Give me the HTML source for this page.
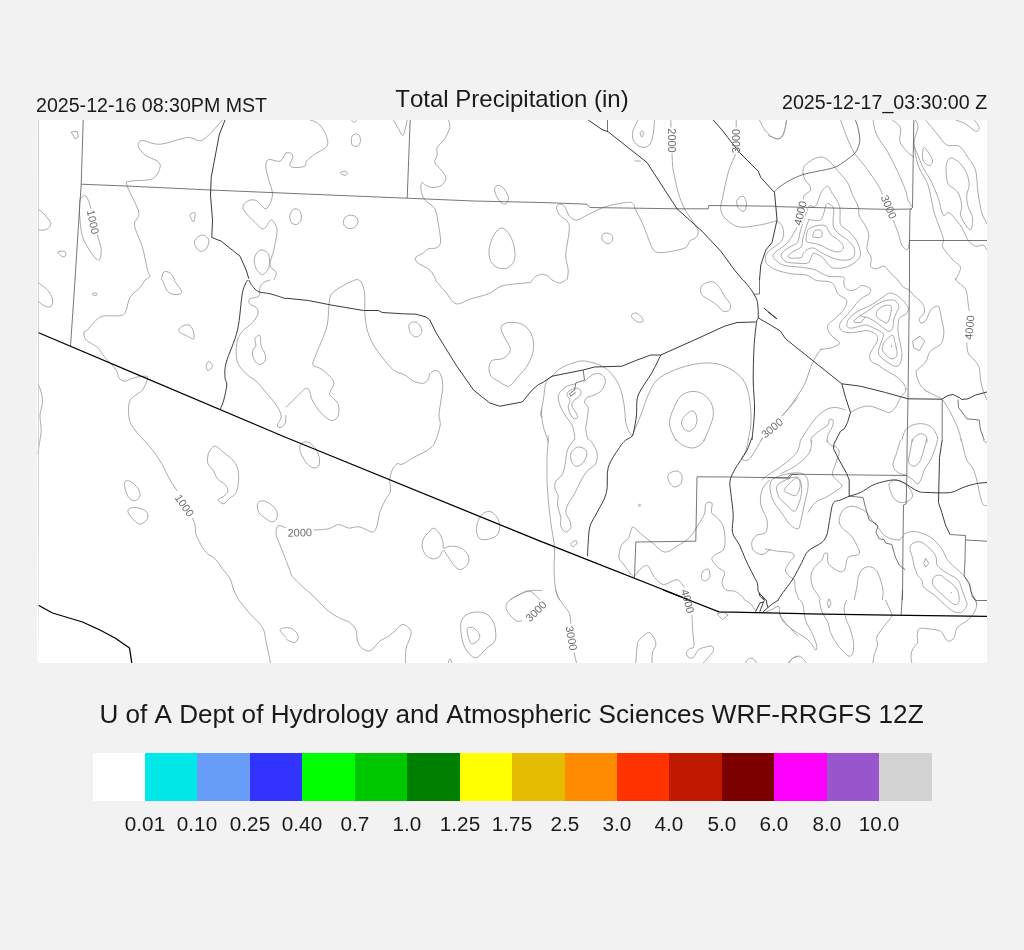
<!DOCTYPE html>
<html lang="en">
<head>
<meta charset="utf-8">
<title>Total Precipitation (in)</title>
<style>
html,body{margin:0;padding:0}
body{width:1024px;height:950px;background:#f2f2f2;position:relative;overflow:hidden;font-family:"Liberation Sans",Arial,sans-serif;color:#1a1a1a;font-kerning:none}
.t{position:absolute;white-space:pre;line-height:1}
#tl{left:35.9px;top:95.6px;font-size:19.62px}
#tc{left:0;width:1024px;text-align:center;top:86.5px;font-size:24.0px}
#tr{right:36.5px;top:92.6px;font-size:19.64px}
#cap{left:0;width:1023px;text-align:center;top:700.5px;font-size:26.12px}
#map{position:absolute;left:37px;top:120px;display:block}
#bar{position:absolute;left:92.5px;top:753px;width:839.25px;height:48.25px;display:flex}
#bar i{flex:1 1 0;display:block}
#map,.t,#labs span{will-change:transform}
#labs span{position:absolute;top:813.5px;font-size:20.7px;line-height:1;transform:translateX(-50%);white-space:pre}
</style>
</head>
<body>
<div class="t" id="tl">2025-12-16 08:30PM MST</div>
<div class="t" id="tc">Total Precipitation (in)</div>
<div class="t" id="tr">2025-12-17_03:30:00 Z</div>
<svg id="map" width="950" height="543" viewBox="37 120 950 543">
<defs><linearGradient id="lg" gradientUnits="userSpaceOnUse" x1="0" y1="120" x2="0" y2="663"><stop offset="0" stop-color="#b4b4b4"/><stop offset="0.75" stop-color="#c8c8c8"/><stop offset="1" stop-color="#f4f4f4"/></linearGradient><clipPath id="cp"><rect x="37.2" y="120" width="949.8" height="543"/></clipPath></defs>
<rect x="37.2" y="120" width="949.8" height="543" fill="#fff"/>
<g clip-path="url(#cp)">
<g fill="none" stroke="#8e8e8e" stroke-width="0.75" stroke-linejoin="round">
<path d="M71.2 132.0L77.0 131.2L78.5 137.0L75.0 138.8Z"/>
<path d="M222.5 120.0C219.2 123.3 208.3 137.1 202.5 140.0C196.7 142.9 194.6 136.8 187.5 137.5C180.4 138.2 167.5 143.8 160.0 144.2C152.5 144.8 146.1 140.2 142.5 140.5C138.9 140.8 137.8 143.8 138.2 146.2C138.7 148.7 141.8 152.5 145.0 155.0C148.2 157.5 155.0 159.2 157.5 161.2C160.0 163.3 160.8 164.6 160.0 167.5C159.2 170.4 157.5 176.5 152.5 178.8C147.5 181.0 134.2 180.1 130.0 181.2C125.8 182.4 125.5 180.3 127.0 185.5C128.5 190.7 137.5 205.9 138.8 212.5C140.0 219.1 133.9 219.2 134.5 225.0C135.1 230.8 140.3 240.0 142.5 247.5C144.7 255.0 146.2 265.2 147.5 270.0C148.8 274.8 150.4 274.6 150.0 276.2C149.6 277.9 145.8 279.4 145.0 280.0"/>
<path d="M81.2 197.5C82.1 197.3 84.6 194.4 86.2 196.2C87.9 198.1 90.4 206.7 91.2 208.8"/>
<path d="M97.0 233.8C97.7 236.5 101.2 245.6 101.2 250.0C101.3 254.4 100.4 261.7 97.5 260.0C94.6 258.3 86.7 246.7 83.8 240.0C80.8 233.3 80.7 226.2 80.0 220.0C79.3 213.8 79.3 206.2 79.5 202.5C79.7 198.8 81.0 198.3 81.2 197.5"/>
<path d="M38.0 208.8C39.2 209.8 42.9 212.5 45.0 215.0C47.1 217.5 50.5 221.3 50.8 223.8C51.0 226.2 48.4 228.5 46.2 229.5C44.1 230.5 39.4 229.9 38.0 230.0"/>
<path d="M58.0 252.0C58.5 251.2 63.8 250.8 65.0 251.5C66.2 252.2 66.0 255.2 65.5 256.0C65.0 256.8 63.2 257.2 62.0 256.5C60.8 255.8 57.5 252.8 58.0 252.0Z"/>
<path d="M190.0 215.0C190.2 213.5 194.4 211.8 195.0 213.0C195.6 214.2 194.3 221.7 193.5 222.0C192.7 222.3 189.8 216.5 190.0 215.0Z"/>
<path d="M195.0 240.0C196.2 238.1 200.2 235.0 202.5 235.0C204.8 235.0 208.1 237.7 208.8 240.0C209.4 242.3 207.7 246.9 206.2 248.8C204.8 250.6 201.8 251.7 200.0 251.2C198.2 250.8 196.3 248.1 195.5 246.2C194.7 244.4 193.8 241.9 195.0 240.0Z"/>
<path d="M286.0 152.5C285.0 154.0 282.9 160.1 280.0 161.2C277.1 162.4 271.1 158.7 268.8 159.5C266.4 160.3 265.8 162.8 265.8 166.2C265.8 169.7 267.6 175.2 268.8 180.0C269.9 184.8 272.9 190.2 272.5 195.0C272.1 199.8 269.0 207.8 266.2 208.8C263.5 209.7 259.4 201.8 256.2 200.5C253.1 199.2 249.7 199.9 247.5 201.2C245.3 202.6 242.0 205.2 243.2 208.8C244.5 212.3 251.6 219.2 255.0 222.5C258.4 225.8 261.0 229.2 263.8 228.8C266.5 228.3 269.0 219.8 271.2 220.0C273.5 220.2 276.6 225.0 277.0 230.0C277.4 235.0 274.9 244.2 273.8 250.0C272.6 255.8 269.6 261.2 270.0 265.0C270.4 268.8 275.6 270.0 276.2 272.5C276.9 275.0 274.2 278.8 273.8 280.0"/>
<path d="M262.5 250.0C264.5 250.4 267.7 252.1 268.8 255.0C269.8 257.9 269.8 264.2 268.8 267.5C267.7 270.8 264.6 274.3 262.5 274.5C260.4 274.7 257.6 271.2 256.2 268.8C254.9 266.3 254.1 262.7 254.2 260.0C254.4 257.3 255.6 254.2 257.0 252.5C258.4 250.8 260.5 249.6 262.5 250.0Z"/>
<path d="M161.2 280.0C161.7 278.7 162.3 273.2 163.8 272.0C165.2 270.8 168.1 271.7 170.0 273.0C171.9 274.3 174.2 278.8 175.0 280.0"/>
<path d="M309.8 120.0C311.2 120.6 315.8 121.2 318.5 123.8C321.2 126.2 324.6 131.2 326.0 135.0C327.4 138.8 328.8 142.9 326.8 146.2C324.7 149.6 316.9 152.5 313.5 155.0C310.1 157.5 308.0 159.4 306.5 161.2C305.0 163.1 306.9 165.2 304.8 166.2C302.6 167.3 296.0 167.8 293.5 167.5C291.0 167.2 289.9 166.2 289.8 164.5C289.6 162.8 292.5 159.4 292.8 157.5C293.0 155.6 292.1 154.0 291.0 153.2C289.9 152.5 286.8 153.0 286.0 153.0"/>
<path d="M353.0 135.0C354.2 134.2 357.2 133.5 358.5 134.5C359.8 135.5 360.7 139.3 360.5 141.2C360.3 143.2 358.6 145.6 357.2 146.2C355.9 146.9 353.2 146.1 352.2 145.0C351.3 143.9 351.4 141.2 351.5 139.5C351.6 137.8 351.8 135.8 353.0 135.0Z"/>
<path d="M351.5 120.0C351.9 120.4 353.2 122.5 354.0 122.5C354.8 122.5 356.1 120.4 356.5 120.0"/>
<path d="M340.2 172.5C340.4 171.8 344.3 171.0 345.5 171.2C346.7 171.5 347.4 173.0 347.2 173.8C347.1 174.5 345.9 175.7 344.8 175.5C343.6 175.3 340.1 173.2 340.2 172.5Z"/>
<path d="M393.5 120.0C394.3 121.5 397.0 126.2 398.5 128.8C400.0 131.3 401.6 135.7 402.8 135.5C403.9 135.3 404.8 130.1 405.5 127.5C406.2 124.9 407.0 121.2 407.2 120.0"/>
<path d="M448.5 120.0C448.7 121.2 450.4 124.4 449.8 127.5C449.1 130.6 446.8 135.4 444.8 138.8C442.7 142.1 438.5 144.8 437.2 147.5C436.0 150.2 437.7 152.5 437.2 155.0C436.8 157.5 433.9 159.8 434.8 162.5C435.6 165.2 440.4 168.5 442.2 171.2C444.1 174.0 446.2 176.4 446.0 178.8C445.8 181.1 443.3 184.0 441.0 185.5C438.7 187.0 434.8 187.5 432.2 187.5C429.8 187.5 427.8 186.3 426.0 185.5C424.2 184.7 422.6 181.8 421.8 182.5C420.9 183.2 420.5 187.1 421.0 190.0C421.5 192.9 422.5 196.9 424.8 200.0C427.0 203.1 432.5 204.6 434.8 208.8C437.0 212.9 437.5 219.4 438.5 225.0C439.5 230.6 440.9 238.7 440.5 242.5C440.1 246.3 438.0 247.0 436.0 248.0C434.0 249.0 430.8 247.8 428.5 248.8C426.2 249.7 424.3 252.4 422.2 253.8C420.2 255.1 416.8 255.5 416.0 257.0C415.2 258.5 415.0 260.3 417.2 262.5C419.5 264.7 426.6 267.1 429.8 270.0C432.9 272.9 435.0 278.3 436.0 280.0"/>
<path d="M494.8 187.5C495.4 185.9 498.1 185.1 499.8 185.5C501.4 185.9 503.3 188.0 504.8 190.0C506.2 192.0 508.3 195.2 508.5 197.5C508.7 199.8 507.2 202.9 506.0 203.8C504.8 204.6 502.7 204.0 501.0 202.5C499.3 201.0 497.0 197.5 496.0 195.0C495.0 192.5 494.1 189.1 494.8 187.5Z"/>
<path d="M498.5 229.2C500.7 227.5 502.7 227.9 504.8 229.2C506.8 230.6 509.3 234.0 511.0 237.5C512.7 241.0 514.2 246.0 514.8 250.0C515.2 254.0 515.2 258.2 514.0 261.2C512.8 264.2 509.8 266.9 507.2 268.0C504.7 269.1 501.1 268.9 498.5 268.0C495.9 267.1 493.1 265.1 491.5 262.5C489.9 259.9 489.0 256.2 489.0 252.5C489.0 248.8 489.9 243.9 491.5 240.0C493.1 236.1 496.3 231.0 498.5 229.2Z"/>
<path d="M291.5 211.2C292.5 209.9 294.5 208.6 296.0 208.8C297.5 208.9 299.7 210.1 300.5 212.0C301.3 213.9 301.7 217.9 301.0 220.0C300.3 222.1 298.1 224.1 296.5 224.5C294.9 224.9 292.6 223.8 291.5 222.5C290.4 221.2 289.8 218.9 289.8 217.0C289.8 215.1 290.5 212.6 291.5 211.2Z"/>
<path d="M344.8 218.0C345.8 216.6 347.9 215.4 349.8 215.2C351.6 215.1 354.6 215.8 356.0 217.0C357.4 218.2 358.4 220.7 358.0 222.5C357.6 224.3 355.3 227.1 353.5 228.0C351.7 228.9 348.9 228.7 347.2 228.0C345.6 227.3 343.9 225.4 343.5 223.8C343.1 222.1 343.7 219.4 344.8 218.0Z"/>
<path d="M532.2 280.0C532.9 279.4 534.4 277.2 536.0 276.2C537.6 275.3 541.0 274.6 542.0 274.2"/>
<path d="M634.5 160.8 L640.8 161.2"/>
<path d="M638.2 120.0C637.4 121.7 634.1 126.7 633.2 130.0C632.4 133.3 632.0 137.2 633.2 140.0C634.5 142.8 638.0 146.2 640.8 147.0C643.5 147.8 647.4 147.2 649.5 145.0C651.6 142.8 652.4 137.9 653.2 133.8C654.1 129.6 654.3 122.3 654.5 120.0"/>
<path d="M640.2 132.5C640.5 131.5 642.2 130.8 642.8 131.2C643.2 131.7 643.5 134.0 643.2 135.0C643.0 136.0 642.0 137.4 641.5 137.0C641.0 136.6 640.0 133.5 640.2 132.5Z"/>
<path d="M670.8 120.0 L671.0 127.5"/>
<path d="M672.0 153.8C672.2 156.5 672.2 163.5 673.2 170.0C674.3 176.5 676.4 186.0 678.2 192.5C680.1 199.0 682.2 204.2 684.5 208.8C686.8 213.3 689.7 216.2 692.0 220.0C694.3 223.8 697.6 228.3 698.2 231.2C698.9 234.2 697.2 235.8 695.8 237.5C694.3 239.2 691.2 239.6 689.5 241.2C687.8 242.9 688.7 245.8 685.8 247.5C682.8 249.2 676.6 250.4 672.0 251.2C667.4 252.1 661.6 253.1 658.2 252.5C654.9 251.9 654.5 252.1 652.0 247.5C649.5 242.9 646.0 231.2 643.2 225.0C640.5 218.8 637.4 213.5 635.8 210.0C634.1 206.5 634.7 205.0 633.2 203.8C631.8 202.5 631.4 202.1 627.0 202.5C622.6 202.9 613.2 204.4 607.0 206.2C600.8 208.1 594.5 211.5 589.5 213.8C584.5 216.0 580.3 219.6 577.0 220.0C573.7 220.4 571.6 218.5 569.5 216.2C567.4 214.0 566.2 208.2 564.5 206.2C562.8 204.2 560.8 204.0 559.5 204.2C558.2 204.5 556.5 205.7 556.5 207.5C556.5 209.3 557.5 212.5 559.5 215.0C561.5 217.5 566.7 219.6 568.2 222.5C569.8 225.4 569.4 227.1 569.0 232.5C568.6 237.9 565.9 248.8 565.8 255.0C565.6 261.2 568.0 265.8 568.2 270.0C568.5 274.2 567.2 278.3 567.0 280.0"/>
<path d="M736.2 120.0 L736.2 127.5"/>
<path d="M735.8 153.8C734.5 156.9 730.3 165.6 728.2 172.5C726.2 179.4 724.5 188.8 723.2 195.0C722.0 201.2 720.1 205.8 720.8 210.0C721.4 214.2 723.9 217.2 727.0 220.0C730.1 222.8 734.1 226.2 739.5 227.0C744.9 227.8 753.5 226.0 759.5 225.0C765.5 224.0 773.0 221.9 775.8 221.2"/>
<path d="M737.0 200.0C737.8 198.1 741.7 195.6 743.2 196.2C744.8 196.9 746.4 201.2 746.5 203.8C746.6 206.2 745.4 210.6 744.0 211.2C742.6 211.9 739.4 209.4 738.2 207.5C737.1 205.6 736.2 201.9 737.0 200.0Z"/>
<path d="M759.5 120.0C760.5 121.9 763.0 128.1 765.8 131.2C768.5 134.4 772.8 138.1 775.8 138.8C778.7 139.4 781.5 138.1 783.2 135.0C785.0 131.9 786.0 122.5 786.5 120.0"/>
<path d="M602.0 235.5C602.5 234.1 604.8 233.0 606.5 233.0C608.2 233.0 611.0 234.2 612.0 235.5C613.0 236.8 613.1 239.1 612.5 240.5C611.9 241.9 609.8 243.6 608.2 243.8C606.7 243.9 604.3 242.6 603.2 241.2C602.2 239.9 601.5 236.9 602.0 235.5Z"/>
<path d="M542.0 273.8C543.0 274.2 546.6 275.2 548.2 276.2C549.9 277.3 551.4 279.4 552.0 280.0"/>
<path d="M786.8 120.0C786.3 121.9 785.5 128.1 784.2 131.2C783.0 134.4 782.0 138.0 779.2 138.8C776.5 139.5 769.9 136.0 768.0 135.5"/>
<path d="M840.5 120.0C841.8 123.3 845.7 134.5 848.0 140.0C850.3 145.5 853.2 150.8 854.2 153.0"/>
<path d="M803.0 173.8C803.2 172.5 802.4 168.8 804.2 166.2C806.1 163.8 810.9 160.2 814.2 158.8C817.6 157.3 820.9 156.2 824.2 157.5C827.6 158.8 832.1 164.2 834.2 166.2C836.4 168.3 836.5 169.4 837.0 170.0"/>
<path d="M854.2 153.0C856.3 155.6 862.8 163.4 866.8 168.8C870.7 174.1 875.4 180.7 878.0 185.0C880.6 189.3 881.8 192.9 882.5 194.5"/>
<path d="M893.0 220.0C893.8 222.1 896.5 228.3 898.0 232.5C899.5 236.7 900.2 242.2 901.8 245.0C903.3 247.8 906.2 250.3 907.5 249.5C908.8 248.7 909.2 241.6 909.5 240.0"/>
<path d="M873.0 120.0C873.6 122.5 874.2 129.6 876.8 135.0C879.2 140.4 884.5 146.2 888.0 152.5C891.5 158.8 895.1 166.2 898.0 172.5C900.9 178.8 903.8 185.4 905.5 190.0C907.2 194.6 906.8 197.1 908.0 200.0C909.2 202.9 911.8 206.2 912.5 207.5"/>
<path d="M892.2 120.0C893.6 121.2 899.2 124.0 900.5 127.5C901.8 131.0 898.9 137.5 899.8 141.2C900.6 145.0 903.2 147.3 905.5 150.0C907.8 152.7 912.4 156.2 913.8 157.5"/>
<path d="M915.5 120.0C915.9 121.2 918.2 123.8 918.0 127.5C917.8 131.2 914.2 136.2 914.2 142.5C914.2 148.8 915.7 157.9 918.0 165.0C920.3 172.1 925.3 177.1 928.0 185.0C930.7 192.9 931.8 203.8 934.2 212.5C936.8 221.2 941.5 231.7 943.0 237.5C944.5 243.3 941.3 243.8 943.0 247.5C944.7 251.2 950.1 256.7 953.0 260.0C955.9 263.3 960.1 264.2 960.5 267.5C960.9 270.8 956.3 277.9 955.5 280.0"/>
<path d="M925.5 120.0C927.6 122.5 934.5 130.8 938.0 135.0C941.5 139.2 943.2 143.1 946.8 145.0C950.3 146.9 955.7 144.2 959.2 146.2C962.8 148.3 965.3 153.5 968.0 157.5C970.7 161.5 973.8 164.2 975.5 170.0C977.2 175.8 977.0 185.4 978.0 192.5C979.0 199.6 980.2 207.3 981.8 212.5C983.2 217.7 986.1 221.9 987.0 223.8"/>
<path d="M955.5 120.0C957.2 120.6 962.2 121.9 965.5 123.8C968.8 125.6 973.2 130.6 975.5 131.2C977.8 131.9 979.5 129.4 979.2 127.5C979.0 125.6 975.1 121.2 974.2 120.0"/>
<path d="M924.2 147.5C925.4 147.5 927.9 151.5 929.2 153.8C930.6 156.0 932.5 159.3 932.5 161.2C932.5 163.2 930.8 165.5 929.2 165.5C927.8 165.5 924.6 163.2 923.5 161.2C922.4 159.3 922.4 156.0 922.5 153.8C922.6 151.5 923.1 147.5 924.2 147.5Z"/>
<path d="M951.8 158.0C953.9 158.4 958.0 161.1 960.5 163.8C963.0 166.4 965.3 170.2 966.8 173.8C968.2 177.3 969.2 181.5 969.2 185.0C969.2 188.5 967.0 191.5 966.8 195.0C966.5 198.5 967.0 202.5 968.0 206.2C969.0 210.0 972.0 213.6 972.5 217.5C973.0 221.4 972.2 228.2 971.0 229.5C969.8 230.8 967.2 227.4 965.5 225.0C963.8 222.6 961.1 218.1 960.5 215.0C959.9 211.9 962.0 209.6 961.8 206.2C961.5 202.9 960.5 197.9 959.2 195.0C958.0 192.1 956.1 190.6 954.2 188.8C952.4 186.9 949.4 186.9 948.0 183.8C946.6 180.6 946.1 173.8 946.0 170.0C945.9 166.2 946.5 163.2 947.5 161.2C948.5 159.2 949.6 157.6 951.8 158.0Z"/>
<path d="M913.8 145.0C915.3 148.8 920.2 161.7 923.0 167.5C925.8 173.3 928.0 175.0 930.5 180.0C933.0 185.0 935.9 191.7 938.0 197.5C940.1 203.3 941.3 212.5 943.0 215.0C944.7 217.5 946.3 212.3 948.0 212.5C949.7 212.7 950.7 213.8 953.0 216.2C955.3 218.8 959.2 223.5 961.8 227.5C964.2 231.5 965.7 236.9 968.0 240.0C970.3 243.1 973.0 245.4 975.5 246.2C978.0 247.1 981.1 244.4 983.0 245.0C984.9 245.6 986.3 249.2 987.0 250.0"/>
<path d="M815.0 230.6C816.4 229.6 820.2 229.6 821.2 230.6C822.3 231.7 822.6 235.8 821.2 236.9C819.9 237.9 814.2 237.9 813.1 236.9C812.1 235.8 813.6 231.7 815.0 230.6Z"/>
<path d="M810.0 228.1C811.6 227.3 814.4 226.0 816.9 225.6C819.4 225.2 823.1 224.9 825.0 225.6C826.9 226.4 827.1 228.4 828.1 230.0C829.2 231.6 829.7 233.4 831.2 235.0C832.8 236.6 835.6 237.8 837.5 239.4C839.4 240.9 841.6 242.8 842.5 244.4C843.4 245.9 843.8 247.5 843.1 248.8C842.5 250.0 840.9 251.7 838.8 251.9C836.6 252.1 833.1 251.1 830.0 250.0C826.9 248.9 822.9 246.1 820.0 245.0C817.1 243.9 814.7 243.6 812.5 243.1C810.3 242.6 807.9 243.0 806.9 241.9C805.8 240.7 806.1 238.1 806.2 236.2C806.4 234.4 806.9 232.0 807.5 230.6C808.1 229.3 808.4 229.0 810.0 228.1Z"/>
<path d="M809.4 219.4C810.4 219.5 813.0 220.6 815.0 220.6C817.0 220.6 819.7 220.9 821.2 219.4C822.8 217.8 823.6 213.4 824.4 211.2C825.1 209.1 825.1 207.5 825.6 206.2C826.1 205.0 826.4 203.5 827.5 203.5C828.6 203.5 831.5 205.0 832.5 206.2C833.5 207.5 833.6 209.0 833.8 211.2C833.9 213.5 833.1 217.3 833.1 220.0C833.1 222.7 832.8 225.2 833.8 227.5C834.7 229.8 836.5 231.7 838.8 233.8C841.0 235.8 845.0 237.7 847.5 240.0C850.0 242.3 852.6 245.0 853.8 247.5C854.9 250.0 855.0 253.0 854.4 255.0C853.8 257.0 852.4 258.5 850.0 259.4C847.6 260.2 843.3 260.4 840.0 260.0C836.7 259.6 833.1 258.1 830.0 256.9C826.9 255.6 824.0 254.0 821.2 252.5C818.5 251.0 816.0 248.6 813.8 248.1C811.5 247.6 809.3 248.4 807.5 249.4C805.7 250.3 804.2 252.4 803.1 253.8C802.1 255.1 803.2 256.8 801.2 257.5C799.3 258.2 793.4 258.3 791.2 258.1C789.1 257.9 787.9 257.3 788.1 256.2C788.3 255.2 790.3 253.4 792.5 251.9C794.7 250.3 799.6 248.9 801.2 246.9C802.9 244.9 801.8 243.0 802.5 240.0C803.2 237.0 804.6 232.1 805.6 228.8C806.7 225.4 808.1 221.6 808.8 220.0C809.4 218.4 808.3 219.3 809.4 219.4Z"/>
<path d="M807.5 208.8C808.0 207.8 808.9 205.9 810.0 205.6C811.1 205.3 813.1 207.4 814.4 206.9C815.6 206.4 816.4 204.9 817.5 202.5C818.6 200.1 819.6 195.2 821.2 192.5C822.9 189.8 825.6 186.0 827.5 186.2C829.4 186.5 830.8 191.2 832.5 193.8C834.2 196.2 836.2 198.8 837.5 201.2C838.8 203.8 839.6 205.6 840.0 208.8C840.4 211.9 839.8 217.2 840.0 220.0C840.2 222.8 839.6 223.5 841.2 225.6C842.9 227.7 847.4 229.9 850.0 232.5C852.6 235.1 855.2 238.3 856.9 241.2C858.5 244.2 859.5 247.4 860.0 250.0C860.5 252.6 861.0 254.7 860.0 256.9C859.0 259.1 856.2 261.4 853.8 263.1C851.2 264.9 848.3 266.7 845.0 267.5C841.7 268.3 836.5 268.5 833.8 268.1C831.0 267.7 830.6 266.8 828.8 265.0C826.9 263.2 825.0 259.5 822.5 257.5C820.0 255.5 815.6 253.1 813.8 253.1C811.9 253.1 812.3 255.8 811.2 257.5C810.2 259.2 810.0 262.2 807.5 263.1C805.0 264.1 799.8 263.3 796.2 263.1C792.7 262.9 788.8 263.0 786.2 261.9C783.8 260.7 781.7 258.0 781.2 256.2C780.8 254.5 782.1 252.9 783.8 251.2C785.4 249.6 789.0 247.7 791.2 246.2C793.5 244.8 796.0 244.8 797.5 242.5C799.0 240.2 799.0 236.2 800.0 232.5C801.0 228.8 802.6 223.5 803.8 220.0C804.9 216.5 806.2 213.1 806.9 211.2C807.5 209.4 807.0 209.7 807.5 208.8Z"/>
<path d="M803.1 173.1C803.4 174.3 804.0 178.0 805.0 180.0C806.0 182.0 808.4 183.3 809.4 185.0C810.3 186.7 810.8 188.8 810.6 190.0C810.4 191.2 809.2 191.7 808.1 192.5C807.1 193.3 805.2 193.9 804.4 195.0C803.5 196.1 803.3 198.6 803.1 199.4"/>
<path d="M796.9 227.5C795.9 229.2 793.2 234.6 791.2 237.5C789.3 240.4 787.7 242.5 785.0 245.0C782.3 247.5 777.0 250.6 775.0 252.5C773.0 254.4 772.8 254.8 773.1 256.2C773.4 257.7 774.9 259.7 776.9 261.2C778.9 262.8 780.9 264.6 785.0 265.6C789.1 266.6 796.5 266.6 801.2 267.2C806.0 267.9 810.2 268.3 813.8 269.4C817.3 270.5 819.8 272.6 822.5 273.8C825.2 274.9 826.7 276.0 830.0 276.5C833.3 277.0 840.0 276.3 842.5 276.9C845.0 277.5 844.6 279.5 845.0 280.0"/>
<path d="M775.6 220.6C776.4 221.0 778.8 221.8 780.0 223.1C781.2 224.5 782.6 226.4 783.1 228.8C783.6 231.1 783.9 235.0 783.1 237.5C782.4 240.0 780.9 241.7 778.8 243.8C776.6 245.8 772.2 247.9 770.0 250.0C767.8 252.1 766.1 254.0 765.6 256.2C765.1 258.5 765.1 261.5 766.9 263.8C768.6 266.0 772.2 268.3 776.2 270.0C780.3 271.7 786.2 272.9 791.2 273.8C796.2 274.6 802.3 274.0 806.2 275.0C810.2 276.0 813.5 279.2 815.0 280.0"/>
<path d="M836.9 170.0C838.6 172.1 844.9 178.3 847.5 182.5C850.1 186.7 850.7 191.0 852.5 195.0C854.3 199.0 857.0 202.7 858.1 206.2C859.3 209.8 858.2 213.1 859.4 216.2C860.5 219.4 863.4 221.9 865.0 225.0C866.6 228.1 868.4 231.0 868.8 235.0C869.1 239.0 866.5 245.0 866.9 248.8C867.3 252.5 870.6 254.6 871.2 257.5C871.9 260.4 869.8 264.4 870.6 266.2C871.5 268.1 874.1 268.8 876.2 268.8C878.4 268.8 881.8 266.0 883.8 266.2C885.7 266.5 886.5 268.5 888.0 270.0C889.5 271.5 890.8 273.3 892.5 275.0C894.2 276.7 897.1 279.2 898.0 280.0"/>
<path d="M38.0 282.5C39.6 283.8 45.1 287.3 47.5 290.0C49.9 292.7 51.9 296.0 52.5 298.8C53.1 301.5 52.5 305.0 51.2 306.2C50.0 307.5 47.2 307.1 45.0 306.2C42.8 305.4 39.2 302.1 38.0 301.2"/>
<path d="M92.5 293.5C92.9 293.1 95.5 292.8 96.2 293.0C97.0 293.2 97.2 294.6 96.8 295.0C96.3 295.4 94.5 295.8 93.8 295.5C93.0 295.2 92.1 293.9 92.5 293.5Z"/>
<path d="M145.0 280.0C144.2 281.2 142.5 284.6 140.0 287.5C137.5 290.4 132.3 293.8 130.0 297.5C127.7 301.2 127.7 307.0 126.2 310.0C124.8 313.0 125.2 314.5 121.2 315.5C117.3 316.5 107.1 315.1 102.5 316.2C97.9 317.4 96.2 320.2 93.8 322.5C91.2 324.8 89.2 328.3 87.5 330.0C85.8 331.7 84.0 330.8 83.8 332.5C83.5 334.2 84.0 337.5 86.2 340.0C88.5 342.5 94.4 344.6 97.5 347.5C100.6 350.4 101.9 353.8 105.0 357.5C108.1 361.2 114.0 366.7 116.2 370.0C118.5 373.3 117.4 375.6 118.8 377.5C120.1 379.4 121.8 381.2 124.5 381.2C127.2 381.2 131.4 378.3 135.0 377.5C138.6 376.7 144.2 376.0 146.2 376.2C148.3 376.5 148.1 376.5 147.5 378.8C146.9 381.0 145.0 386.9 142.5 390.0C140.0 393.1 134.8 395.0 132.5 397.5C130.2 400.0 129.2 401.2 128.8 405.0C128.2 408.8 128.5 415.8 129.5 420.0C130.5 424.2 132.6 426.7 135.0 430.0C137.4 433.3 142.3 438.3 143.8 440.0"/>
<path d="M162.5 280.0C163.3 281.9 165.4 288.8 167.5 291.2C169.6 293.7 172.6 294.3 175.0 294.5C177.4 294.7 181.3 294.1 181.8 292.5C182.2 290.9 178.8 287.1 177.5 285.0C176.2 282.9 174.4 280.8 173.8 280.0"/>
<path d="M178.8 331.2C177.9 329.6 180.8 327.3 182.5 326.2C184.2 325.2 187.0 324.4 188.8 325.0C190.5 325.6 192.2 327.7 193.0 330.0C193.8 332.3 194.7 337.7 193.8 338.8C192.8 339.8 190.0 337.5 187.5 336.2C185.0 335.0 179.6 332.9 178.8 331.2Z"/>
<path d="M206.2 366.2C206.4 364.7 207.7 361.2 208.8 361.2C209.8 361.2 212.6 364.7 212.5 366.2C212.4 367.8 209.0 370.5 208.0 370.5C207.0 370.5 206.1 367.8 206.2 366.2Z"/>
<path d="M270.0 280.0C269.0 280.4 265.4 281.2 263.8 282.5C262.1 283.8 260.8 285.2 260.0 287.5C259.2 289.8 260.4 294.4 258.8 296.2C257.1 298.1 251.5 297.5 250.0 298.8C248.5 300.0 248.5 302.3 249.5 303.8C250.5 305.2 254.8 305.8 256.2 307.5C257.7 309.2 258.6 311.2 258.0 313.8C257.4 316.2 255.1 319.6 252.5 322.5C249.9 325.4 245.0 328.3 242.5 331.2C240.0 334.2 238.5 336.0 237.5 340.0C236.5 344.0 236.0 350.8 236.2 355.0C236.5 359.2 236.9 361.7 238.8 365.0C240.6 368.3 244.6 372.3 247.5 375.0C250.4 377.7 253.3 378.5 256.2 381.2C259.2 384.0 261.7 387.3 265.0 391.2C268.3 395.2 273.5 400.8 276.2 405.0C279.0 409.2 281.0 412.9 281.2 416.2C281.5 419.6 277.7 423.1 277.5 425.0C277.3 426.9 278.8 427.7 280.0 427.5C281.2 427.3 284.0 425.8 285.0 423.8C286.0 421.7 285.8 416.5 286.0 415.0"/>
<path d="M255.0 338.8C255.7 337.1 259.0 334.2 260.0 335.5C261.0 336.8 260.4 343.2 261.2 346.2C262.1 349.3 264.4 351.2 265.0 353.8C265.6 356.2 266.0 359.5 265.0 361.2C264.0 363.0 260.6 364.9 258.8 364.5C256.9 364.1 254.8 361.0 253.8 358.8C252.7 356.5 252.2 353.5 252.5 351.2C252.8 349.0 255.3 347.6 255.8 345.5C256.2 343.4 254.3 340.4 255.0 338.8Z"/>
<path d="M38.0 383.8C38.5 385.2 40.5 389.4 41.2 392.5C42.0 395.6 42.7 398.8 42.5 402.5C42.3 406.2 40.2 410.4 40.0 415.0C39.8 419.6 41.2 425.8 41.2 430.0C41.2 434.2 40.2 438.3 40.0 440.0"/>
<path d="M286.0 407.5C287.7 405.8 292.5 400.7 296.0 397.5C299.5 394.3 304.5 387.8 307.2 388.2C310.0 388.7 310.4 396.4 312.2 400.0C314.1 403.6 316.2 407.1 318.5 410.0C320.8 412.9 323.7 415.8 326.0 417.5C328.3 419.2 330.4 420.5 332.2 420.5C334.1 420.5 336.1 419.2 337.2 417.5C338.4 415.8 339.0 412.5 339.0 410.0C339.0 407.5 338.6 404.8 337.2 402.5C335.9 400.2 332.2 397.9 331.0 396.2C329.8 394.6 329.2 394.7 329.8 392.5C330.2 390.3 334.2 385.9 334.0 383.0C333.8 380.1 330.7 377.4 328.5 375.0C326.3 372.6 323.6 370.4 321.0 368.8C318.4 367.1 314.0 366.9 313.0 365.0C312.0 363.1 313.4 361.2 314.8 357.5C316.1 353.8 318.9 347.9 321.0 342.5C323.1 337.1 325.9 331.2 327.2 325.0C328.6 318.8 328.4 310.0 329.0 305.0C329.6 300.0 329.2 297.9 331.0 295.0C332.8 292.1 336.0 289.9 339.8 287.5C343.5 285.1 350.4 281.8 353.5 280.5C356.6 279.2 357.0 279.5 358.5 280.0C360.0 280.5 361.2 281.2 362.2 283.8C363.3 286.2 364.3 290.2 364.8 295.0C365.2 299.8 364.3 306.7 364.8 312.5C365.2 318.3 365.8 324.6 367.2 330.0C368.7 335.4 370.8 340.2 373.5 345.0C376.2 349.8 380.2 354.6 383.5 358.8C386.8 362.9 390.0 367.3 393.5 370.0C397.0 372.7 401.4 373.1 404.8 375.0C408.1 376.9 410.4 379.9 413.5 381.2C416.6 382.6 421.0 383.7 423.5 383.2C426.0 382.8 427.5 380.3 428.5 378.8C429.5 377.2 428.6 375.1 429.8 373.8C430.9 372.4 433.5 370.5 435.2 370.5C437.0 370.5 439.0 371.3 440.2 373.8C441.5 376.2 442.6 380.6 442.8 385.0C442.9 389.4 441.6 395.0 441.0 400.0C440.4 405.0 439.1 410.8 439.0 415.0C438.9 419.2 440.8 420.8 440.2 425.0C439.8 429.2 436.7 437.5 436.0 440.0"/>
<path d="M435.2 280.0C437.0 282.1 442.5 288.5 446.0 292.5C449.5 296.5 451.8 302.7 456.0 303.8C460.2 304.8 465.6 300.4 471.0 298.8C476.4 297.1 483.5 295.8 488.5 293.8C493.5 291.7 496.4 287.9 501.0 286.2C505.6 284.6 511.2 284.4 516.0 283.8C520.8 283.1 527.0 283.1 529.8 282.5C532.5 281.9 531.8 280.4 532.2 280.0"/>
<path d="M409.0 325.0C409.5 323.2 411.9 322.2 413.5 322.0C415.1 321.8 417.1 322.4 418.5 323.8C419.9 325.1 421.4 328.2 421.8 330.0C422.1 331.8 421.5 333.3 420.5 334.5C419.5 335.7 417.2 337.3 415.5 337.0C413.8 336.7 411.3 334.5 410.2 332.5C409.2 330.5 408.5 326.8 409.0 325.0Z"/>
<path d="M501.5 326.2C502.5 324.6 505.2 322.9 508.5 322.5C511.8 322.1 517.5 322.3 521.0 323.8C524.5 325.2 527.7 328.1 529.8 331.2C531.8 334.4 533.1 338.5 533.5 342.5C533.9 346.5 533.5 350.8 532.2 355.0C531.0 359.2 528.5 363.8 526.0 367.5C523.5 371.2 519.5 374.8 517.2 377.5C515.0 380.2 513.9 382.3 512.2 383.8C510.6 385.2 509.5 386.7 507.2 386.2C505.0 385.8 501.2 382.9 498.5 381.2C495.8 379.6 492.6 378.5 491.0 376.2C489.4 374.0 488.8 370.1 489.0 367.5C489.2 364.9 490.0 362.0 492.2 360.5C494.5 359.0 499.5 359.9 502.2 358.8C505.0 357.6 507.2 355.5 508.5 353.8C509.8 352.0 510.7 350.3 510.2 348.0C509.8 345.7 507.3 342.6 506.0 340.0C504.7 337.4 503.0 334.8 502.2 332.5C501.5 330.2 500.5 327.9 501.5 326.2Z"/>
<path d="M542.0 408.8C541.8 409.6 540.5 412.2 540.5 413.8C540.5 415.3 541.8 417.3 542.0 418.0"/>
<path d="M552.0 280.0C553.2 280.5 557.2 283.0 559.5 283.0C561.8 283.0 564.7 280.5 565.8 280.0"/>
<path d="M553.0 376.0C551.9 377.0 547.8 378.0 546.2 381.8C544.7 385.5 544.3 393.7 543.5 398.8C542.7 403.8 541.5 407.2 541.5 412.0C541.5 416.8 542.5 422.8 543.5 427.2C544.5 431.7 546.5 436.0 547.2 438.5C548.0 441.0 548.1 441.8 548.2 442.5"/>
<path d="M700.8 287.5C701.4 285.5 703.7 283.9 705.8 283.0C707.8 282.1 711.0 281.2 713.2 282.0C715.5 282.8 717.6 285.1 719.5 287.5C721.4 289.9 722.8 293.5 724.5 296.2C726.2 299.0 729.2 301.5 730.0 303.8C730.8 306.0 730.6 308.8 729.5 310.0C728.4 311.2 725.3 312.1 723.2 311.2C721.2 310.4 719.3 306.9 717.0 305.0C714.7 303.1 712.0 301.7 709.5 300.0C707.0 298.3 703.5 297.1 702.0 295.0C700.5 292.9 700.1 289.5 700.8 287.5Z"/>
<path d="M631.5 315.0C631.9 314.0 634.2 312.8 635.8 313.0C637.3 313.2 639.5 314.9 640.8 316.2C642.0 317.6 643.7 320.3 643.2 321.2C642.8 322.2 639.9 322.4 638.2 322.0C636.6 321.6 634.4 319.9 633.2 318.8C632.1 317.6 631.1 316.0 631.5 315.0Z"/>
<path d="M632.0 436.2C633.5 432.7 638.0 421.9 640.8 415.0C643.5 408.1 645.5 400.8 648.2 395.0C651.0 389.2 652.6 384.2 657.0 380.0C661.4 375.8 667.8 372.7 674.5 370.0C681.2 367.3 689.9 364.8 697.0 363.8C704.1 362.7 711.2 362.7 717.0 363.8C722.8 364.8 727.6 367.3 732.0 370.0C736.4 372.7 740.5 376.2 743.2 380.0C746.0 383.8 747.0 387.5 748.2 392.5C749.5 397.5 750.3 404.6 750.8 410.0C751.2 415.4 751.2 420.0 750.8 425.0C750.3 430.0 748.7 437.5 748.2 440.0"/>
<path d="M676.2 441.2C675.2 439.0 671.0 431.2 670.0 427.5C669.0 423.8 669.3 422.1 670.0 418.8C670.7 415.4 672.4 411.0 674.0 407.5C675.6 404.0 677.3 400.0 679.5 397.5C681.7 395.0 684.1 393.5 687.0 392.5C689.9 391.5 693.9 391.1 697.0 391.8C700.1 392.4 703.2 394.0 705.8 396.2C708.2 398.5 710.8 401.7 712.0 405.0C713.2 408.3 713.7 412.5 713.2 416.2C712.8 420.0 711.0 423.3 709.5 427.5C708.0 431.7 704.9 439.0 704.0 441.2"/>
<path d="M684.5 416.2C686.0 414.4 689.0 411.9 690.8 411.2C692.5 410.6 694.0 411.0 695.0 412.5C696.0 414.0 697.1 417.5 697.0 420.0C696.9 422.5 695.8 425.6 694.5 427.5C693.2 429.4 691.2 431.0 689.5 431.2C687.8 431.5 685.3 430.2 684.0 428.8C682.7 427.3 681.4 424.6 681.5 422.5C681.6 420.4 683.0 418.1 684.5 416.2Z"/>
<path d="M552.0 376.2C553.7 374.8 557.4 370.0 562.0 367.5C566.6 365.0 574.5 362.1 579.5 361.2C584.5 360.4 587.8 361.5 592.0 362.5C596.2 363.5 600.8 365.0 604.5 367.5C608.2 370.0 611.8 373.8 614.5 377.5C617.2 381.2 619.1 385.0 620.8 390.0C622.4 395.0 623.7 402.1 624.5 407.5C625.3 412.9 624.9 418.3 625.8 422.5C626.6 426.7 628.5 430.2 629.5 432.5C630.5 434.8 631.6 435.6 632.0 436.2"/>
<path d="M583.2 382.5C584.7 381.2 589.3 376.5 592.0 375.0C594.7 373.5 597.4 373.3 599.5 373.8C601.6 374.2 603.6 375.8 604.5 377.5C605.4 379.2 605.6 381.5 605.0 383.8C604.4 386.0 602.7 389.3 600.8 391.2C598.8 393.2 595.5 394.5 593.2 395.5C591.0 396.5 588.5 396.3 587.0 397.5C585.5 398.7 584.3 400.8 584.5 402.5C584.7 404.2 587.8 404.6 588.2 407.5C588.7 410.4 587.4 416.2 587.0 420.0C586.6 423.8 585.5 426.7 585.8 430.0C586.0 433.3 587.8 438.3 588.2 440.0"/>
<path d="M575.8 383.8C574.3 384.2 569.5 385.0 567.0 386.2C564.5 387.5 562.2 389.4 560.8 391.2C559.3 393.1 558.2 394.8 558.2 397.5C558.2 400.2 559.5 404.4 560.8 407.5C562.0 410.6 563.9 413.3 565.8 416.2C567.6 419.2 570.5 421.9 572.0 425.0C573.5 428.1 574.1 432.5 574.5 435.0C574.9 437.5 574.5 439.2 574.5 440.0"/>
<path d="M569.0 391.2C570.7 390.1 575.0 388.0 577.0 388.0C579.0 388.0 580.3 389.9 580.8 391.2C581.2 392.6 580.8 394.6 579.5 396.2C578.2 397.9 574.5 399.6 573.2 401.2C572.0 402.9 571.6 404.4 572.0 406.2C572.4 408.1 574.8 410.6 575.8 412.5C576.7 414.4 577.9 416.5 577.5 417.5C577.1 418.5 574.6 419.1 573.2 418.2C571.9 417.4 570.3 414.5 569.5 412.5C568.7 410.5 568.2 408.3 568.2 406.2C568.3 404.2 570.2 401.9 570.0 400.0C569.8 398.1 567.2 396.5 567.0 395.0C566.8 393.5 567.3 392.4 569.0 391.2Z"/>
<path d="M798.0 397.5C796.6 399.2 792.2 404.4 789.5 407.5C786.8 410.6 783.2 414.8 782.0 416.2"/>
<path d="M764.0 435.5 L761.5 440.5"/>
<path d="M821.8 348.8C820.9 349.8 818.6 351.9 816.8 355.0C814.9 358.1 812.4 362.9 810.5 367.5C808.6 372.1 807.6 377.9 805.5 382.5C803.4 387.1 800.7 390.8 798.0 395.0C795.3 399.2 792.0 404.0 789.2 407.5C786.5 411.0 783.0 414.8 781.8 416.2"/>
<path d="M905.0 388.0C905.1 388.5 906.2 389.7 905.5 391.2C904.8 392.8 902.2 394.8 900.5 397.5C898.8 400.2 897.4 405.0 895.5 407.5C893.6 410.0 891.5 412.1 889.2 412.5C887.0 412.9 884.9 411.0 881.8 410.0C878.6 409.0 874.0 406.7 870.5 406.2C867.0 405.8 863.8 406.5 860.5 407.5C857.2 408.5 852.2 411.7 850.5 412.5"/>
<path d="M924.2 390.0C925.9 390.8 931.3 393.5 934.2 395.0C937.2 396.5 940.5 398.5 941.8 399.2"/>
<path d="M955.2 278.0C955.5 278.5 955.9 280.2 956.8 281.2C957.6 282.3 959.0 282.8 960.5 284.2C962.0 285.7 964.8 287.0 966.0 290.0C967.2 293.0 967.5 299.0 968.0 302.5C968.5 306.0 969.0 309.8 969.2 311.2"/>
<path d="M966.8 342.5C967.0 344.2 966.8 349.6 968.0 352.5C969.2 355.4 972.4 357.5 974.2 360.0C976.1 362.5 978.2 364.2 979.2 367.5C980.3 370.8 979.9 376.2 980.5 380.0C981.1 383.8 981.9 386.7 983.0 390.0C984.1 393.3 986.3 398.3 987.0 400.0"/>
<path d="M800.5 440.0C802.8 436.7 810.1 425.0 814.2 420.0C818.4 415.0 822.0 412.1 825.5 410.0C829.0 407.9 832.2 407.5 835.5 407.5C838.8 407.5 843.8 409.6 845.5 410.0"/>
<path d="M811.0 442.5C811.1 441.7 810.2 439.6 811.8 437.5C813.3 435.4 817.8 432.1 820.5 430.0C823.2 427.9 826.5 426.7 828.0 425.0C829.5 423.3 828.4 420.8 829.2 420.0C830.1 419.2 832.5 419.0 833.0 420.0C833.5 421.0 833.3 423.8 832.5 426.2C831.7 428.8 829.0 432.3 828.0 435.0C827.0 437.7 827.0 441.2 826.8 442.5"/>
<path d="M901.8 440.0C902.4 438.3 903.6 432.5 905.5 430.0C907.4 427.5 910.1 426.0 913.0 425.0C915.9 424.0 919.9 423.3 923.0 423.8C926.1 424.2 929.5 425.6 931.8 427.5C934.0 429.4 935.7 432.9 936.8 435.0C937.8 437.1 937.8 439.2 938.0 440.0"/>
<path d="M912.0 442.5C912.4 441.7 912.8 439.0 914.2 437.5C915.7 436.0 918.5 434.0 920.5 433.8C922.5 433.5 924.9 434.8 926.0 436.2C927.1 437.7 926.8 441.5 927.0 442.5"/>
<path d="M943.0 400.0C944.5 402.5 949.2 410.0 951.8 415.0C954.3 420.0 956.9 425.6 958.5 430.0C960.1 434.4 960.8 439.4 961.2 441.2"/>
<path d="M815.0 280.0C815.8 280.2 817.5 280.7 820.0 281.0C822.5 281.3 827.6 281.1 830.0 281.9C832.4 282.6 833.2 284.0 834.4 285.6C835.5 287.3 835.9 290.2 836.9 291.9C837.8 293.5 838.4 294.4 840.0 295.6C841.6 296.9 845.2 297.8 846.2 299.4C847.3 300.9 846.9 303.0 846.2 305.0C845.6 307.0 844.2 309.2 842.5 311.2C840.8 313.3 838.4 315.5 836.2 317.5C834.1 319.5 830.8 321.5 829.4 323.1C827.9 324.8 827.4 325.7 827.5 327.5C827.6 329.3 828.8 331.9 830.0 333.8C831.2 335.6 833.4 337.2 835.0 338.8C836.6 340.3 839.5 342.0 839.8 343.1C840.0 344.3 837.9 344.8 836.2 345.6C834.6 346.5 832.7 347.5 830.0 348.1C827.3 348.8 821.7 349.2 820.0 349.4"/>
<path d="M843.8 280.0C843.9 281.0 843.8 284.7 844.4 286.2C845.0 287.8 846.1 288.6 847.5 289.4C848.9 290.1 850.8 290.8 852.5 290.6C854.2 290.4 855.9 289.0 857.5 288.1C859.1 287.3 860.2 285.8 861.9 285.6C863.5 285.4 866.0 286.2 867.5 286.9C869.0 287.5 870.3 288.2 870.6 289.4C870.9 290.5 870.5 292.5 869.4 293.8C868.2 295.0 865.5 295.7 863.8 296.9C862.0 298.0 860.4 299.0 858.8 300.6C857.1 302.3 855.6 304.6 853.8 306.9C851.9 309.2 849.5 312.1 847.5 314.4C845.5 316.7 843.2 318.8 841.9 320.6C840.5 322.5 839.5 324.1 839.4 325.6C839.3 327.2 840.0 328.9 841.2 330.0C842.5 331.1 844.4 332.1 846.9 332.5C849.4 332.9 853.0 332.6 856.2 332.2C859.5 331.9 863.4 330.6 866.2 330.6C869.1 330.7 871.4 331.7 873.1 332.5C874.9 333.3 876.1 334.4 876.9 335.6C877.6 336.9 877.9 338.2 877.5 340.0C877.1 341.8 875.5 344.2 874.4 346.2C873.2 348.3 871.4 350.5 870.6 352.5C869.9 354.5 869.5 356.6 869.8 358.1C870.0 359.7 870.4 360.6 871.9 361.9C873.4 363.1 876.4 364.2 878.8 365.6C881.1 367.1 883.5 369.0 886.2 370.6C889.0 372.3 892.5 374.0 895.0 375.6C897.5 377.3 899.6 378.9 901.2 380.6C902.9 382.4 904.2 384.7 905.0 386.2C905.8 387.8 906.0 389.4 906.2 390.0"/>
<path d="M846.9 323.8C847.1 322.3 847.4 320.5 848.8 318.8C850.1 317.0 852.7 314.8 855.0 313.1C857.3 311.5 860.0 310.2 862.5 309.0C865.0 307.8 867.3 307.1 870.0 305.6C872.7 304.1 876.2 301.7 878.8 300.0C881.2 298.3 883.2 296.8 885.0 295.6C886.8 294.5 887.7 293.3 889.4 293.1C891.0 292.9 893.0 293.4 895.0 294.4C897.0 295.3 899.4 297.1 901.2 298.8C903.1 300.4 905.0 302.7 906.2 304.4C907.5 306.0 908.5 307.2 908.5 308.8C908.5 310.3 907.7 312.3 906.2 313.8C904.8 315.2 901.3 316.2 900.0 317.5C898.7 318.8 898.8 318.8 898.5 321.2C898.2 323.8 897.8 328.5 898.1 332.5C898.5 336.5 900.0 341.2 900.6 345.0C901.2 348.8 902.0 351.9 901.9 355.0C901.8 358.1 901.0 361.8 900.0 363.8C899.0 365.7 897.5 366.6 895.6 366.5C893.8 366.4 891.0 364.5 888.8 363.1C886.5 361.7 883.6 359.8 881.9 358.1C880.2 356.5 878.9 355.1 878.5 353.1C878.1 351.1 879.1 348.6 879.8 346.2C880.4 343.9 881.9 340.7 882.5 338.8C883.1 336.8 883.9 335.6 883.5 334.4C883.1 333.1 881.6 332.3 880.0 331.2C878.4 330.2 876.0 329.2 873.8 328.1C871.5 327.1 868.8 325.3 866.2 325.0C863.8 324.7 861.1 326.0 858.8 326.5C856.4 327.0 853.8 328.0 851.9 328.1C850.0 328.2 848.3 328.0 847.5 327.2C846.7 326.5 846.7 325.2 846.9 323.8Z"/>
<path d="M860.0 315.6C861.2 314.9 865.0 312.9 867.5 311.2C870.0 309.6 872.5 307.2 875.0 305.6C877.5 304.0 880.0 302.4 882.5 301.5C885.0 300.6 887.9 300.1 890.0 300.0C892.1 299.9 893.5 299.6 895.0 300.6C896.5 301.7 898.8 304.3 899.0 306.2C899.2 308.2 897.3 310.4 896.5 312.5C895.7 314.6 894.6 316.6 894.0 318.8C893.4 320.9 893.4 323.9 893.1 325.6C892.8 327.4 893.1 328.4 892.2 329.4C891.4 330.3 889.5 331.5 888.1 331.2C886.7 331.0 885.3 329.3 883.8 328.1C882.2 327.0 880.6 325.7 878.8 324.4C876.9 323.0 874.4 321.1 872.5 320.0C870.6 318.9 868.9 318.0 867.5 317.5C866.1 317.0 864.9 317.2 864.4 317.1"/>
<path d="M853.8 320.6L860.0 315.6L865.0 317.2L861.2 322.5L854.8 322.5Z"/>
<path d="M876.9 311.2C877.8 309.5 880.6 307.5 882.5 306.5C884.4 305.5 886.7 305.2 888.1 305.2C889.6 305.3 890.8 305.5 891.2 306.9C891.7 308.3 891.2 311.1 890.6 313.8C890.0 316.4 888.9 321.2 887.5 322.5C886.1 323.8 884.3 322.2 882.5 321.2C880.7 320.3 877.8 318.5 876.9 316.9C875.9 315.2 875.9 313.0 876.9 311.2Z"/>
<path d="M885.0 341.2C886.6 339.6 890.8 334.8 892.5 335.0C894.2 335.2 894.3 339.8 895.0 342.5C895.7 345.2 896.7 348.9 896.9 351.2C897.1 353.6 897.2 355.6 896.2 356.9C895.3 358.1 892.9 359.1 891.2 358.8C889.6 358.4 887.7 356.5 886.2 355.0C884.8 353.5 883.0 351.7 882.5 350.0C882.0 348.3 882.7 346.5 883.1 345.0C883.5 343.5 883.4 342.9 885.0 341.2Z"/>
<path d="M891.5 345.2L891.5 347.2"/>
<path d="M898.0 280.0C898.6 280.9 900.6 284.2 901.9 285.6C903.1 287.0 904.4 287.8 905.6 288.5C906.9 289.2 908.0 288.8 909.4 290.0C910.7 291.2 912.0 293.9 913.8 295.6C915.5 297.4 918.3 298.9 920.0 300.6C921.7 302.4 923.0 304.3 923.8 306.2C924.5 308.2 924.8 310.8 924.4 312.5C924.0 314.2 922.1 315.1 921.2 316.2C920.4 317.4 919.4 318.2 919.4 319.4C919.3 320.5 919.9 323.0 921.0 323.1C922.1 323.2 925.0 321.6 926.2 320.0C927.5 318.4 927.7 315.7 928.8 313.8C929.8 311.8 930.9 309.4 932.5 308.1C934.1 306.9 936.9 305.7 938.1 306.2C939.4 306.8 939.4 309.0 940.0 311.2C940.6 313.5 941.2 316.9 941.9 320.0C942.5 323.1 943.5 326.9 943.8 330.0C944.0 333.1 943.8 336.2 943.1 338.8C942.5 341.2 941.8 343.2 940.0 345.0C938.2 346.8 934.4 347.9 932.5 349.4C930.6 350.8 929.8 351.8 928.8 353.8C927.7 355.7 927.7 359.0 926.2 361.2C924.8 363.5 921.7 365.8 920.0 367.5C918.3 369.2 916.7 369.4 916.2 371.2C915.8 373.1 916.7 376.2 917.5 378.8C918.3 381.2 919.9 384.4 921.2 386.2C922.6 388.1 924.9 389.4 925.6 390.0"/>
<path d="M912.5 341.2L920.0 336.2L924.8 341.2L919.4 350.6L913.8 348.1Z"/>
<path d="M40.0 440.0C39.8 441.2 39.1 445.2 38.8 447.5C38.4 449.8 38.1 452.7 38.0 453.8"/>
<path d="M143.8 440.0C145.2 441.7 149.4 445.8 152.5 450.0C155.6 454.2 159.6 460.0 162.5 465.0C165.4 470.0 167.5 475.6 170.0 480.0C172.5 484.4 176.2 489.4 177.5 491.2"/>
<path d="M192.5 518.0C192.9 519.2 194.4 522.2 195.0 525.0C195.6 527.8 195.0 531.2 196.2 535.0C197.5 538.8 200.6 544.4 202.5 547.5C204.4 550.6 205.4 551.9 207.5 553.8C209.6 555.6 212.5 556.2 215.0 558.8C217.5 561.2 220.0 565.4 222.5 568.8C225.0 572.1 228.1 575.2 230.0 578.8C231.9 582.3 232.3 586.5 233.8 590.0C235.2 593.5 237.9 598.3 238.8 600.0"/>
<path d="M124.5 482.5C125.0 481.0 127.0 480.3 128.8 480.8C130.5 481.2 133.2 483.2 135.0 485.0C136.8 486.8 138.8 489.2 139.5 491.2C140.2 493.2 140.3 495.4 139.5 497.0C138.7 498.6 136.3 500.7 134.5 500.8C132.7 500.8 130.2 499.3 128.8 497.5C127.2 495.7 126.2 492.5 125.5 490.0C124.8 487.5 124.0 484.0 124.5 482.5Z"/>
<path d="M128.0 510.0C128.6 508.8 130.8 507.7 133.0 507.5C135.2 507.3 138.9 507.9 141.2 508.8C143.6 509.6 146.0 510.7 147.0 512.5C148.0 514.3 148.2 517.5 147.0 519.5C145.8 521.5 142.2 524.2 140.0 524.2C137.8 524.3 135.5 521.5 133.8 520.0C132.0 518.5 130.5 516.7 129.5 515.0C128.5 513.3 127.4 511.2 128.0 510.0Z"/>
<path d="M215.5 446.2C217.6 446.9 220.7 450.0 223.8 452.5C226.8 455.0 231.3 458.1 233.8 461.2C236.2 464.4 237.5 467.5 238.2 471.2C239.0 475.0 238.7 480.0 238.2 483.8C237.8 487.5 237.1 491.2 235.5 493.8C233.9 496.2 230.7 497.1 228.8 498.8C226.8 500.4 225.5 503.5 223.8 503.8C222.0 504.0 218.0 501.2 218.0 500.0C218.0 498.8 222.1 497.7 223.8 496.2C225.4 494.8 227.8 493.2 228.0 491.2C228.2 489.3 226.8 486.6 225.0 484.5C223.2 482.4 219.5 481.2 217.5 478.8C215.5 476.3 214.6 472.5 213.0 470.0C211.4 467.5 208.8 466.2 208.0 463.8C207.2 461.2 207.5 457.5 208.0 455.0C208.5 452.5 210.0 450.2 211.2 448.8C212.5 447.3 213.4 445.6 215.5 446.2Z"/>
<path d="M257.5 503.8C258.1 501.8 260.4 500.8 262.5 500.8C264.6 500.8 267.7 502.2 270.0 503.8C272.3 505.3 275.1 507.7 276.2 510.0C277.4 512.3 277.6 515.5 277.0 517.5C276.4 519.5 274.5 521.9 272.5 522.0C270.5 522.1 267.3 519.6 265.0 518.0C262.7 516.4 260.0 514.9 258.8 512.5C257.5 510.1 256.9 505.7 257.5 503.8Z"/>
<path d="M286.0 528.0C284.7 527.6 279.6 524.6 278.0 525.8C276.4 526.9 275.9 531.8 276.2 535.0C276.6 538.2 278.4 540.8 280.0 545.0C281.6 549.2 285.0 557.5 286.0 560.0"/>
<path d="M301.0 443.8C302.2 442.6 305.0 441.4 307.2 442.0C309.5 442.6 312.8 445.1 314.8 447.5C316.7 449.9 318.3 453.3 319.0 456.2C319.7 459.2 319.8 463.0 319.0 465.0C318.2 467.0 316.0 468.2 314.0 468.0C312.0 467.8 309.3 465.9 307.2 463.8C305.2 461.6 302.8 457.5 301.5 455.0C300.2 452.5 299.8 450.6 299.8 448.8C299.7 446.9 299.8 444.9 301.0 443.8Z"/>
<path d="M313.5 530.0C316.0 529.8 324.3 529.7 328.5 528.8C332.7 527.8 335.2 524.6 338.5 524.5C341.8 524.4 345.2 527.6 348.5 528.0C351.8 528.4 355.6 526.5 358.5 526.8C361.4 527.0 363.7 528.6 366.0 529.5C368.3 530.4 370.5 532.3 372.2 532.0C374.0 531.7 375.2 530.8 376.5 527.5C377.8 524.2 378.2 517.3 379.8 512.5C381.3 507.7 384.2 502.3 386.0 498.8C387.8 495.2 389.9 494.4 390.5 491.2C391.1 488.1 389.5 483.5 389.8 480.0C390.0 476.5 391.0 472.7 392.2 470.0C393.5 467.3 395.6 464.7 397.2 463.8C398.9 462.8 399.5 465.3 402.2 464.2C405.0 463.2 409.5 459.7 413.5 457.5C417.5 455.3 422.7 453.3 426.0 451.2C429.3 449.2 431.9 446.9 433.5 445.0C435.1 443.1 435.2 440.8 435.5 440.0"/>
<path d="M433.5 528.2C435.4 528.5 438.2 531.4 439.8 533.8C441.3 536.1 442.4 540.1 443.0 542.5C443.6 544.9 442.2 547.4 443.5 548.0C444.8 548.6 448.1 546.2 451.0 546.2C453.9 546.2 458.2 546.5 461.0 548.0C463.8 549.5 466.8 552.4 468.0 555.0C469.2 557.6 469.2 561.3 468.0 563.8C466.8 566.2 463.2 569.1 461.0 569.5C458.8 569.9 456.8 568.2 454.8 566.2C452.7 564.2 450.4 560.1 448.5 557.5C446.6 554.9 445.1 550.6 443.5 550.5C441.9 550.4 440.9 555.6 439.0 557.0C437.1 558.4 434.4 559.1 432.2 558.8C430.1 558.4 427.7 556.9 426.0 555.0C424.3 553.1 422.7 550.2 422.2 547.5C421.8 544.8 422.5 541.2 423.5 538.8C424.5 536.2 426.8 534.2 428.5 532.5C430.2 530.8 431.6 528.0 433.5 528.2Z"/>
<path d="M479.8 517.5C481.0 515.6 482.9 513.5 484.8 512.5C486.6 511.5 488.9 510.9 491.0 511.8C493.1 512.6 495.8 515.1 497.2 517.5C498.7 519.9 499.8 523.3 499.8 526.2C499.8 529.2 499.1 532.8 497.2 535.0C495.4 537.2 491.4 538.6 488.5 539.2C485.6 539.9 481.8 540.1 479.8 538.8C477.8 537.4 476.9 533.8 476.5 531.2C476.1 528.8 476.7 526.0 477.2 523.8C477.8 521.5 478.5 519.4 479.8 517.5Z"/>
<path d="M286.0 560.5C286.6 562.1 288.7 567.4 289.8 570.0C290.8 572.6 290.0 573.3 292.2 576.2C294.5 579.2 300.4 584.6 303.5 587.5C306.6 590.4 308.7 591.7 311.0 593.8C313.3 595.8 316.2 599.0 317.2 600.0"/>
<path d="M509.8 600.0C511.2 599.2 515.2 596.5 518.5 595.0C521.8 593.5 525.8 591.5 529.8 590.8C533.7 590.0 540.0 590.5 542.0 590.5"/>
<path d="M548.0 435.0C548.0 435.8 548.4 435.8 548.2 440.0C548.1 444.2 547.1 451.7 547.0 460.0C546.9 468.3 546.9 479.6 547.5 490.0C548.1 500.4 549.6 512.9 550.8 522.5C551.9 532.1 554.0 539.6 554.5 547.5C555.0 555.4 553.8 562.9 554.0 570.0C554.2 577.1 554.8 585.0 555.8 590.0C556.7 595.0 558.9 598.3 559.5 600.0"/>
<path d="M574.5 438.8C574.4 439.0 575.2 438.1 574.0 440.0C572.8 441.9 569.0 445.8 567.5 450.0C566.0 454.2 565.9 460.8 565.0 465.0C564.1 469.2 563.5 472.3 562.0 475.0C560.5 477.7 556.9 479.0 555.8 481.2C554.6 483.5 554.6 486.2 555.0 488.8C555.4 491.2 557.8 493.5 558.2 496.2C558.7 499.0 557.1 501.5 557.5 505.0C557.9 508.5 560.2 514.0 560.8 517.5C561.3 521.0 559.9 523.8 560.8 526.2C561.6 528.7 564.1 531.8 565.8 532.0C567.4 532.2 570.1 529.5 570.8 527.5C571.4 525.5 570.3 522.5 569.5 520.0C568.7 517.5 566.0 515.2 565.8 512.5C565.5 509.8 566.8 506.9 568.2 503.8C569.7 500.6 572.2 497.9 574.5 493.8C576.8 489.6 579.7 482.7 582.0 478.8C584.3 474.8 586.0 472.5 588.2 470.0C590.5 467.5 594.3 466.7 595.8 463.8C597.2 460.8 597.6 456.0 597.0 452.5C596.4 449.0 593.2 444.6 592.0 442.5C590.8 440.4 589.9 440.4 589.5 440.0"/>
<path d="M574.5 448.8C576.0 447.6 577.6 446.8 579.5 447.0C581.4 447.2 584.6 448.5 585.8 450.0C586.9 451.5 587.1 454.0 586.5 456.2C585.9 458.5 583.8 462.1 582.0 463.8C580.2 465.4 577.5 466.7 575.8 466.2C574.0 465.8 572.3 463.3 571.5 461.2C570.7 459.2 570.2 455.8 570.8 453.8C571.2 451.7 573.0 449.9 574.5 448.8Z"/>
<path d="M570.8 543.8C571.2 542.7 574.7 540.6 575.8 540.5C576.8 540.4 577.4 542.0 577.0 543.0C576.6 544.0 574.3 546.6 573.2 546.8C572.2 546.9 570.3 544.8 570.8 543.8Z"/>
<path d="M675.8 438.8C676.2 439.3 677.0 440.9 678.2 442.0C679.5 443.1 681.0 444.5 683.2 445.5C685.5 446.5 689.3 448.0 692.0 448.0C694.7 448.0 697.7 446.5 699.5 445.5C701.3 444.5 701.9 443.1 702.8 442.0C703.6 440.9 704.2 439.3 704.5 438.8"/>
<path d="M670.8 472.5C672.5 471.5 676.4 470.6 678.2 471.2C680.1 471.9 681.6 474.2 682.0 476.2C682.4 478.3 682.0 482.0 680.8 483.8C679.5 485.5 676.4 487.2 674.5 487.0C672.6 486.8 670.6 484.2 669.5 482.5C668.4 480.8 667.5 478.7 667.8 477.0C668.0 475.3 669.0 473.5 670.8 472.5Z"/>
<path d="M638.8 504.5C639.0 504.2 640.0 504.2 640.2 504.5C640.5 504.8 640.5 505.8 640.2 506.0C640.0 506.2 639.0 506.2 638.8 506.0C638.5 505.8 638.5 504.8 638.8 504.5Z"/>
<path d="M634.5 577.5C633.7 576.7 631.4 574.8 629.5 572.5C627.6 570.2 625.0 566.2 623.2 563.8C621.5 561.2 619.3 560.6 619.0 557.5C618.7 554.4 620.0 548.1 621.5 545.0C623.0 541.9 626.7 541.0 628.2 538.8C629.8 536.5 629.9 533.2 630.8 531.2C631.6 529.3 631.6 526.6 633.2 527.0C634.9 527.4 637.6 531.2 640.8 533.8C643.9 536.3 648.0 539.5 652.0 542.5C656.0 545.5 660.3 551.4 664.5 552.0C668.7 552.6 672.8 548.7 677.0 546.2C681.2 543.8 686.0 541.0 689.5 537.5C693.0 534.0 695.8 529.0 698.2 525.0C700.8 521.0 703.2 517.3 704.5 513.8C705.8 510.2 704.5 505.5 705.8 503.8C707.0 502.0 711.0 501.5 712.0 503.0C713.0 504.5 710.7 510.1 711.5 512.5C712.3 514.9 715.0 515.2 717.0 517.5C719.0 519.8 721.9 522.5 723.2 526.2C724.6 530.0 725.0 536.0 725.0 540.0C725.0 544.0 725.0 547.5 723.2 550.0C721.5 552.5 716.4 553.3 714.5 555.0C712.6 556.7 711.4 557.9 712.0 560.0C712.6 562.1 716.2 565.4 718.2 567.5C720.3 569.6 723.9 570.0 724.5 572.5C725.1 575.0 721.8 579.6 722.0 582.5C722.2 585.4 723.7 588.5 725.8 590.0C727.8 591.5 731.8 590.2 734.5 591.2C737.2 592.3 740.3 594.8 742.0 596.2C743.7 597.7 744.1 599.4 744.5 600.0"/>
<path d="M634.5 576.2C635.8 574.8 639.7 569.2 642.0 567.5C644.3 565.8 646.2 564.6 648.2 566.2C650.3 567.9 652.0 574.5 654.5 577.5C657.0 580.5 660.3 583.9 663.2 584.5C666.2 585.1 669.5 582.0 672.0 581.2C674.5 580.5 676.2 579.0 678.2 580.0C680.3 581.0 683.5 586.2 684.5 587.5"/>
<path d="M703.2 571.2C704.4 570.1 707.1 568.6 708.2 569.2C709.4 569.9 710.1 573.2 710.0 575.0C709.9 576.8 708.6 579.1 707.5 580.0C706.4 580.9 704.2 581.1 703.2 580.5C702.2 579.9 701.5 577.8 701.5 576.2C701.5 574.7 702.1 572.4 703.2 571.2Z"/>
<path d="M762.0 438.8C761.2 440.2 758.9 444.4 757.0 447.5C755.1 450.6 752.6 455.3 750.8 457.5C748.9 459.7 747.3 460.3 745.8 460.5C744.2 460.7 741.6 459.8 741.5 458.5C741.4 457.2 744.0 454.8 745.0 452.5C746.0 450.2 746.9 447.3 747.5 445.0C748.1 442.7 748.3 439.8 748.5 438.8"/>
<path d="M769.5 480.0C768.2 481.7 763.5 485.8 762.0 490.0C760.5 494.2 759.9 500.0 760.8 505.0C761.6 510.0 766.2 515.4 767.0 520.0C767.8 524.6 767.4 530.0 765.8 532.5C764.1 535.0 759.3 533.5 757.0 535.0C754.7 536.5 752.6 538.8 752.0 541.2C751.4 543.8 751.6 547.8 753.2 550.0C754.9 552.2 759.1 554.7 762.0 554.5C764.9 554.3 769.3 549.7 770.8 548.8"/>
<path d="M800.5 440.0C799.9 442.1 799.7 448.3 796.8 452.5C793.8 456.7 787.8 461.2 783.0 465.0C778.2 468.8 771.5 472.5 768.0 475.0C764.5 477.5 762.8 479.2 761.8 480.0"/>
<path d="M811.8 440.0C811.5 441.7 811.5 447.1 810.5 450.0C809.5 452.9 808.4 454.6 805.5 457.5C802.6 460.4 797.2 464.8 793.0 467.5C788.8 470.2 782.6 472.7 780.5 473.8"/>
<path d="M770.5 482.5C771.3 480.0 772.6 479.0 775.5 477.5C778.4 476.0 783.8 474.5 788.0 473.8C792.2 473.0 797.4 472.4 800.5 473.0C803.6 473.6 805.5 475.1 806.8 477.5C808.0 479.9 808.4 482.9 808.0 487.5C807.6 492.1 805.5 499.2 804.2 505.0C803.0 510.8 801.5 518.5 800.5 522.5C799.5 526.5 799.7 528.3 798.0 528.8C796.3 529.2 793.0 527.3 790.5 525.0C788.0 522.7 785.7 518.8 783.0 515.0C780.3 511.2 776.3 506.2 774.2 502.5C772.2 498.8 771.1 495.8 770.5 492.5C769.9 489.2 769.7 485.0 770.5 482.5Z"/>
<path d="M776.8 486.2C777.8 483.3 782.4 481.5 785.5 480.0C788.6 478.5 793.1 477.0 795.5 477.0C797.9 477.0 799.0 477.8 800.0 480.0C801.0 482.2 801.9 486.2 801.8 490.0C801.6 493.8 800.5 499.0 799.2 502.5C798.0 506.0 796.3 510.8 794.2 511.2C792.2 511.7 789.2 507.3 786.8 505.0C784.2 502.7 780.9 500.6 779.2 497.5C777.6 494.4 775.7 489.2 776.8 486.2Z"/>
<path d="M784.2 490.0C784.7 487.9 789.7 483.2 791.8 481.2C793.8 479.2 795.4 477.8 796.8 478.0C798.1 478.2 799.6 480.5 800.0 482.5C800.4 484.5 800.0 487.8 799.2 490.0C798.5 492.2 797.2 494.9 795.5 495.5C793.8 496.1 791.1 494.7 789.2 493.8C787.4 492.8 783.8 492.1 784.2 490.0Z"/>
<path d="M826.8 440.0C827.4 440.8 828.8 443.8 830.5 445.0C832.2 446.2 835.3 446.2 836.8 447.5C838.2 448.8 839.2 450.4 839.2 452.5C839.2 454.6 837.6 457.5 836.8 460.0C835.9 462.5 835.0 465.0 834.2 467.5C833.5 470.0 831.9 472.7 832.5 475.0C833.1 477.3 836.5 479.4 838.0 481.2C839.5 483.1 842.2 484.6 841.8 486.2C841.3 487.9 838.2 489.4 835.5 491.2C832.8 493.1 828.4 496.0 825.5 497.5C822.6 499.0 820.1 499.2 818.0 500.5C815.9 501.8 814.7 503.0 813.0 505.0C811.3 507.0 808.8 511.2 808.0 512.5"/>
<path d="M903.0 536.2C902.2 536.9 900.9 540.0 898.0 540.0C895.1 540.0 888.8 538.3 885.5 536.2C882.2 534.2 880.3 530.2 878.0 527.5C875.7 524.8 873.6 522.5 871.8 520.0C869.9 517.5 868.6 514.4 866.8 512.5C864.9 510.6 863.0 509.8 860.5 508.8C858.0 507.7 854.7 506.0 851.8 506.2C848.8 506.5 845.1 507.7 843.0 510.0C840.9 512.3 839.5 517.1 839.2 520.0C839.0 522.9 839.9 525.0 841.8 527.5C843.6 530.0 848.0 532.1 850.5 535.0C853.0 537.9 855.3 541.9 856.8 545.0C858.2 548.1 860.7 551.7 859.2 553.8C857.8 555.8 850.3 555.2 848.0 557.5C845.7 559.8 846.5 565.1 845.5 567.5C844.5 569.9 843.8 571.9 841.8 572.0C839.7 572.1 835.3 569.6 833.0 568.0C830.7 566.4 828.9 564.9 828.0 562.5C827.1 560.1 828.1 555.2 827.5 553.8C826.9 552.3 825.2 552.7 824.2 553.8C823.3 554.8 823.4 557.7 821.8 560.0C820.1 562.3 816.0 564.8 814.2 567.5C812.5 570.2 811.2 572.9 811.0 576.2C810.8 579.6 811.8 584.4 813.0 587.5C814.2 590.6 816.8 592.9 818.0 595.0C819.2 597.1 820.1 599.2 820.5 600.0"/>
<path d="M765.0 549.0C767.2 549.4 773.8 550.7 778.0 551.2C782.2 551.8 787.8 551.7 790.5 552.5C793.2 553.3 794.5 554.6 794.2 556.2C794.0 557.9 790.7 560.2 789.2 562.5C787.8 564.8 785.5 567.7 785.5 570.0C785.5 572.3 787.8 574.6 789.2 576.2C790.7 577.9 793.2 577.7 794.2 580.0C795.3 582.3 794.7 586.7 795.5 590.0C796.3 593.3 798.6 598.3 799.2 600.0"/>
<path d="M854.2 600.0C854.7 597.9 856.0 591.5 856.8 587.5C857.5 583.5 857.5 579.4 858.5 576.2C859.5 573.1 861.0 570.3 863.0 568.8C865.0 567.2 868.2 566.3 870.5 566.8C872.8 567.2 875.1 569.0 876.8 571.2C878.4 573.5 879.5 576.9 880.5 580.0C881.5 583.1 882.7 586.7 883.0 590.0C883.3 593.3 882.6 598.3 882.5 600.0"/>
<path d="M889.2 483.8C890.1 481.9 893.0 480.1 895.5 480.0C898.0 479.9 901.8 481.3 904.2 483.0C906.8 484.7 909.1 487.8 910.5 490.0C911.9 492.2 912.9 494.4 912.5 496.2C912.1 498.1 910.0 500.2 908.0 501.2C906.0 502.3 902.8 502.9 900.5 502.5C898.2 502.1 895.9 500.6 894.2 498.8C892.6 496.9 891.3 493.8 890.5 491.2C889.7 488.8 888.4 485.6 889.2 483.8Z"/>
<path d="M900.5 440.0C899.9 442.1 898.0 448.3 896.8 452.5C895.5 456.7 892.8 461.7 893.0 465.0C893.2 468.3 895.7 470.8 898.0 472.5C900.3 474.2 904.2 474.2 906.8 475.5C909.2 476.8 911.1 478.6 913.0 480.0C914.9 481.4 916.5 484.2 918.0 483.8C919.5 483.3 920.7 479.8 921.8 477.5C922.8 475.2 922.8 472.9 924.2 470.0C925.7 467.1 928.6 463.8 930.5 460.0C932.4 456.2 934.3 450.8 935.5 447.5C936.7 444.2 937.2 441.2 937.5 440.0"/>
<path d="M912.2 438.8C912.0 440.6 911.1 446.2 910.5 450.0C909.9 453.8 908.1 458.5 908.5 461.2C908.9 464.0 911.2 466.0 913.0 466.2C914.8 466.5 917.6 464.8 919.2 462.5C920.9 460.2 921.8 456.5 923.0 452.5C924.2 448.5 926.1 441.0 926.8 438.8"/>
<path d="M961.2 438.8C961.7 440.6 962.8 446.5 963.8 450.0C964.7 453.5 965.2 456.9 966.8 460.0C968.3 463.1 971.3 465.4 973.0 468.8C974.7 472.1 975.5 475.2 976.8 480.0C978.0 484.8 979.4 493.3 980.5 497.5C981.6 501.7 982.4 503.7 983.5 505.0C984.6 506.3 986.4 505.4 987.0 505.5"/>
<path d="M983.0 440.0 L987.0 443.0"/>
<path d="M238.8 600.0C240.6 602.3 246.0 609.2 250.0 613.8C254.0 618.3 259.8 622.7 262.5 627.5C265.2 632.3 264.9 636.6 266.2 642.5C267.6 648.4 269.8 659.6 270.5 663.0"/>
<path d="M286.0 627.5C285.0 627.9 280.0 628.3 280.0 630.0C280.0 631.7 285.0 636.2 286.0 637.5"/>
<path d="M317.2 600.0C319.1 601.9 324.5 608.1 328.5 611.2C332.5 614.4 337.5 616.9 341.0 618.8C344.5 620.6 347.2 620.6 349.8 622.5C352.2 624.4 354.8 627.1 356.0 630.0C357.2 632.9 356.4 637.1 357.2 640.0C358.1 642.9 359.3 645.7 361.0 647.5C362.7 649.3 365.4 650.4 367.2 650.8C369.1 651.1 370.2 651.1 372.2 649.5C374.3 647.9 377.0 643.5 379.8 641.2C382.5 639.0 385.8 638.1 388.5 636.2C391.2 634.4 393.9 631.9 396.0 630.0C398.1 628.1 399.3 625.8 401.0 625.0C402.7 624.2 404.3 624.5 406.0 625.5C407.7 626.5 410.4 629.0 411.0 631.2C411.6 633.5 410.6 635.8 409.8 638.8C408.9 641.7 406.7 644.7 406.0 648.8C405.3 652.8 405.6 660.6 405.5 663.0"/>
<path d="M286.0 627.5C287.0 627.7 290.4 627.7 292.2 628.8C294.1 629.8 296.3 632.1 297.2 633.8C298.2 635.4 298.4 637.3 298.0 638.8C297.6 640.2 296.1 642.1 294.8 642.5C293.4 642.9 291.2 641.9 289.8 641.2C288.3 640.6 286.6 639.2 286.0 638.8"/>
<path d="M461.0 622.5C461.8 619.0 463.5 616.8 466.0 615.0C468.5 613.2 472.7 612.2 476.0 612.0C479.3 611.8 483.3 612.4 486.0 613.8C488.7 615.1 490.7 617.3 492.2 620.0C493.8 622.7 495.1 626.5 495.5 630.0C495.9 633.5 496.3 638.1 494.8 641.2C493.2 644.4 488.9 646.0 486.0 648.8C483.1 651.5 479.8 656.4 477.2 657.5C474.8 658.6 473.1 657.2 471.0 655.5C468.9 653.8 466.3 650.7 464.8 647.5C463.2 644.3 462.1 640.4 461.5 636.2C460.9 632.1 460.2 626.0 461.0 622.5Z"/>
<path d="M467.2 628.8C467.9 627.1 470.6 627.1 472.2 627.5C473.9 627.9 476.0 629.8 477.2 631.2C478.5 632.7 479.8 634.6 479.8 636.2C479.8 637.9 478.6 640.0 477.2 641.2C475.9 642.5 473.0 644.4 471.5 643.8C470.0 643.1 469.2 640.0 468.5 637.5C467.8 635.0 466.6 630.4 467.2 628.8Z"/>
<path d="M542.0 602.0C540.0 600.2 533.7 592.4 529.8 591.2C525.8 590.1 522.0 593.3 518.5 595.0C515.0 596.7 510.6 599.2 508.5 601.2C506.4 603.3 505.8 605.2 506.0 607.5C506.2 609.8 507.9 612.7 509.8 615.0C511.6 617.3 515.2 620.3 517.2 621.2C519.3 622.2 521.4 620.6 522.2 620.5"/>
<path d="M448.5 663.0C448.7 662.3 449.1 658.8 449.8 658.8C450.4 658.8 451.8 662.3 452.2 663.0"/>
<path d="M555.8 590.0C556.2 591.2 556.8 594.8 558.2 597.5C559.7 600.2 562.6 603.5 564.5 606.2C566.4 609.0 568.5 610.8 569.5 613.8C570.5 616.7 570.5 622.1 570.8 623.8"/>
<path d="M574.0 652.5 L576.5 663.0"/>
<path d="M692.0 615.0C692.1 617.9 692.4 627.3 692.8 632.5C693.1 637.7 694.5 643.5 694.0 646.2C693.5 649.0 690.8 647.7 689.5 648.8C688.2 649.8 686.7 651.1 686.5 652.5C686.3 653.9 687.1 656.2 688.2 657.0C689.4 657.8 691.6 658.7 693.2 657.5C694.9 656.3 696.2 651.8 698.2 650.0C700.3 648.2 703.5 647.6 705.8 647.0C708.0 646.4 710.8 645.5 712.0 646.2C713.2 647.0 713.9 649.4 713.2 651.2C712.6 653.1 709.9 655.5 708.2 657.5C706.6 659.5 704.1 662.1 703.2 663.0"/>
<path d="M717.0 613.8L723.2 612.0L728.2 615.0L722.5 619.5Z"/>
<path d="M635.8 663.0C636.0 660.4 636.6 651.1 637.0 647.5C637.4 643.9 637.0 643.3 638.2 641.2C639.5 639.2 642.6 636.5 644.5 635.0C646.4 633.5 647.8 631.9 649.5 632.5C651.2 633.1 653.5 636.7 654.5 638.8C655.5 640.8 656.1 642.7 655.8 645.0C655.4 647.3 653.1 649.5 652.5 652.5C651.9 655.5 652.1 661.2 652.0 663.0"/>
<path d="M744.5 600.0C745.5 600.6 748.9 601.9 750.8 603.8C752.6 605.6 754.9 610.0 755.8 611.2"/>
<path d="M764.5 613.0C766.0 612.3 770.8 609.9 773.2 608.8C775.7 607.6 778.0 605.4 779.0 606.2C780.0 607.1 778.8 611.5 779.5 613.8C780.2 616.0 781.6 617.7 783.2 620.0C784.9 622.3 787.0 624.8 789.5 627.5C792.0 630.2 796.6 634.8 798.0 636.2"/>
<path d="M745.8 663.0C746.2 662.3 747.0 659.5 748.2 658.8C749.5 658.0 751.9 658.0 753.2 658.8C754.6 659.5 756.0 662.3 756.5 663.0"/>
<path d="M788.2 663.0C788.9 662.3 790.4 659.9 792.0 658.8C793.6 657.6 797.0 656.7 798.0 656.2"/>
<path d="M780.0 613.8C780.5 615.0 780.8 618.5 783.0 621.2C785.2 624.0 789.7 627.5 793.0 630.0C796.3 632.5 800.1 634.2 803.0 636.2C805.9 638.3 808.4 640.2 810.5 642.5C812.6 644.8 814.5 649.4 815.5 650.0C816.5 650.6 817.2 648.8 816.8 646.2C816.3 643.8 814.9 639.4 813.0 635.0C811.1 630.6 807.2 625.0 805.5 620.0C803.8 615.0 803.9 608.3 803.0 605.0C802.1 601.7 800.5 600.8 800.0 600.0"/>
<path d="M819.2 600.0C819.7 601.9 820.3 607.5 821.8 611.2C823.2 615.0 826.5 619.0 828.0 622.5C829.5 626.0 829.0 629.0 830.5 632.5C832.0 636.0 834.7 640.6 836.8 643.8C838.8 646.9 840.9 649.2 843.0 651.2C845.1 653.3 847.6 656.0 849.2 656.2C850.9 656.5 852.3 654.8 853.0 652.5C853.7 650.2 853.9 646.2 853.5 642.5C853.1 638.8 851.8 634.2 850.5 630.0C849.2 625.8 846.5 621.2 845.5 617.5C844.5 613.8 844.0 610.4 844.2 607.5C844.5 604.6 846.3 601.2 846.8 600.0"/>
<path d="M827.2 602.5L829.2 598.8L831.0 603.8L828.8 608.0Z"/>
<path d="M885.5 600.0C886.3 601.9 889.5 608.5 890.5 611.2C891.5 614.0 893.0 613.5 891.8 616.2C890.5 619.0 885.5 624.0 883.0 627.5C880.5 631.0 877.7 634.6 876.8 637.5C875.8 640.4 877.9 642.1 877.5 645.0C877.1 647.9 875.0 652.0 874.2 655.0C873.5 658.0 873.2 661.7 873.0 663.0"/>
<path d="M911.8 663.0C911.6 661.7 910.8 657.4 911.0 655.0C911.2 652.6 911.9 650.8 913.0 648.8C914.1 646.7 916.8 644.8 917.5 642.5C918.2 640.2 917.0 637.3 917.2 635.0C917.5 632.7 917.5 629.8 919.2 628.8C921.0 627.7 924.5 628.3 928.0 628.8C931.5 629.2 937.6 629.6 940.5 631.2C943.4 632.9 944.0 637.1 945.5 638.8C947.0 640.4 947.8 641.5 949.2 641.2C950.7 641.0 953.1 639.4 954.2 637.5C955.4 635.6 955.0 632.1 956.0 630.0C957.0 627.9 958.5 626.7 960.5 625.0C962.5 623.3 965.7 622.1 968.0 620.0C970.3 617.9 972.8 615.0 974.2 612.5C975.7 610.0 976.5 607.0 976.8 605.0C977.0 603.0 975.7 601.2 975.5 600.5"/>
<path d="M789.2 663.0C789.9 662.2 791.3 659.1 793.0 658.0C794.7 656.9 797.4 655.9 799.2 656.2C801.1 656.6 803.2 658.9 804.2 660.0C805.3 661.1 805.3 662.5 805.5 663.0"/>
<path d="M903.7 534.5C904.5 534.1 906.6 532.6 908.5 532.2C910.5 531.7 913.0 531.3 915.5 531.6C918.0 531.9 920.9 532.8 923.6 533.9C926.3 535.0 929.2 536.1 931.7 537.9C934.2 539.8 936.7 542.7 938.6 544.9C940.6 547.1 941.9 548.9 943.3 551.3C944.6 553.6 945.2 556.5 946.7 558.8C948.3 561.1 950.4 563.0 952.5 565.2C954.7 567.3 957.4 569.5 959.5 571.5C961.6 573.6 963.5 575.1 965.3 577.3C967.0 579.5 968.8 582.2 969.9 584.8C971.0 587.5 970.7 590.3 971.6 593.0C972.6 595.6 974.9 598.4 975.7 600.5C976.5 602.6 976.5 604.8 976.6 605.7"/>
<path d="M910.3 546.1C910.9 544.7 912.6 543.3 914.3 542.6C916.1 541.9 918.6 541.4 920.7 542.0C922.8 542.6 924.9 544.3 927.1 546.1C929.2 547.8 931.9 550.4 933.4 552.4C935.0 554.4 935.7 556.2 936.3 558.2C936.9 560.2 935.9 562.7 936.9 564.6C937.9 566.5 939.9 568.1 942.1 569.8C944.3 571.5 947.7 573.5 950.2 575.0C952.7 576.5 955.5 577.6 957.2 579.1C958.8 580.5 959.2 581.8 960.1 583.7C960.9 585.6 961.5 588.1 962.4 590.6C963.2 593.1 964.5 596.4 965.3 598.7C966.0 601.1 967.2 602.7 967.0 604.5C966.8 606.4 965.2 608.4 964.1 609.7C963.0 611.1 962.2 612.2 960.6 612.6C959.1 613.0 957.0 612.9 954.8 612.1C952.7 611.2 950.2 609.3 947.9 607.4C945.6 605.6 943.3 603.2 940.9 601.1C938.6 598.9 936.3 596.5 934.0 594.7C931.7 592.9 928.9 591.5 927.1 590.1C925.2 588.6 923.9 587.6 923.0 586.0C922.1 584.4 922.8 582.1 921.8 580.2C920.9 578.3 918.5 576.7 917.2 574.4C916.0 572.1 915.2 569.4 914.3 566.3C913.4 563.2 912.7 558.5 912.0 555.9C911.3 553.3 910.6 552.3 910.3 550.7C910.0 549.0 909.6 547.4 910.3 546.1Z"/>
<path d="M933.4 577.9C934.1 576.8 935.1 576.0 936.3 575.6C937.6 575.2 939.4 574.8 940.9 575.3C942.5 575.9 943.8 577.8 945.6 579.1C947.3 580.3 949.5 581.5 951.4 583.1C953.2 584.7 955.3 586.9 956.6 588.9C957.8 590.9 958.5 593.1 958.9 595.3C959.3 597.4 959.3 600.1 958.9 601.6C958.5 603.2 957.6 604.2 956.6 604.5C955.5 604.8 954.2 604.3 952.5 603.4C950.9 602.4 948.9 600.6 946.7 598.7C944.6 596.9 941.9 594.4 939.8 592.4C937.7 590.3 935.3 588.3 934.0 586.6C932.7 584.8 932.4 583.4 932.3 581.9C932.2 580.5 932.7 579.0 933.4 577.9Z"/>
<path d="M923.6 563.4L925.7 558.2L928.8 563.4L925.9 566.9Z"/>
<path d="M951.4 592.0L951.4 593.4"/>
</g>
<g font-family="'Liberation Sans',sans-serif" font-size="11.0" fill="none" stroke="#fff" stroke-width="3.5" stroke-linejoin="round" text-anchor="middle">
<text transform="translate(93.0 222.0) rotate(78)" y="3.9">1000</text>
<text transform="translate(671.5 140.5) rotate(90)" y="3.9">2000</text>
<text transform="translate(736.2 141.0) rotate(-90)" y="3.9">3000</text>
<text transform="translate(888.8 206.8) rotate(68)" y="3.9">3000</text>
<text transform="translate(800.2 213.1) rotate(-77)" y="3.9">4000</text>
<text transform="translate(772.0 428.0) rotate(-40)" y="3.9">3000</text>
<text transform="translate(969.5 327.5) rotate(-85)" y="3.9">4000</text>
<text transform="translate(184.5 505.5) rotate(55)" y="3.9">1000</text>
<text transform="translate(299.8 532.5) rotate(-2)" y="3.9">2000</text>
<text transform="translate(536.0 611.2) rotate(-45)" y="3.9">3000</text>
<text transform="translate(571.5 638.2) rotate(80)" y="3.9">3000</text>
<text transform="translate(687.8 601.2) rotate(75)" y="3.9">4000</text>
</g>
<g fill="none" stroke="#505050" stroke-width="0.78" stroke-linejoin="round">
<path d="M83.2 120.0L81.2 184.2L78.8 220.0L75.0 280.0"/>
<path d="M81.2 184.2L130.0 186.2L210.5 190.0L286.0 193.2"/>
<path d="M286.0 193.2L348.5 195.8L407.2 198.2L473.5 201.0L542.0 202.5"/>
<path d="M410.2 120.0L407.2 198.2"/>
<path d="M542.0 202.5L587.0 204.2L590.0 207.5L677.0 208.8L708.2 208.8L708.8 205.5L775.8 206.2"/>
<path d="M607.5 120.0L607.5 131.8"/>
<path d="M913.8 120.0L912.5 207.5L910.0 210.0L909.5 240.0L909.5 280.0"/>
<path d="M909.5 240.5L987.0 240.5"/>
<path d="M855.5 120.0C856.0 121.7 857.8 126.7 858.5 130.0C859.2 133.3 859.8 137.1 859.8 140.0C859.7 142.9 858.9 145.2 858.0 147.5C857.1 149.8 856.8 151.2 854.2 153.8C851.8 156.2 846.3 160.2 843.0 162.5C839.7 164.8 838.4 166.0 834.2 167.5C830.1 169.0 823.2 170.1 818.0 171.2C812.8 172.4 807.6 173.0 803.0 174.5C798.4 176.0 794.2 178.0 790.5 180.0C786.8 182.0 783.2 184.3 780.5 186.2C777.8 188.2 775.3 190.8 774.2 191.8"/>
<path d="M775.8 206.6L888.0 209.4L911.8 209.0"/>
<path d="M75.0 280.0L70.5 346.2"/>
<path d="M759.5 280.0L759.5 294.0L754.0 294.2"/>
<path d="M583.2 370.0L584.5 380.0L575.8 383.0L574.5 390.0L569.5 393.8L570.8 396.2L575.8 392.5"/>
<path d="M909.5 280.0L908.0 398.8L907.2 440.0"/>
<path d="M942.2 399.2L942.2 440.0"/>
<path d="M958.0 399.5L958.5 407.5L966.8 418.8L979.2 420.0L980.5 430.0L984.2 440.0"/>
<path d="M634.5 577.5L635.8 542.0L695.8 541.2L697.0 476.8L732.0 477.0L789.5 478.0L792.0 474.5L798.0 474.5"/>
<path d="M768.0 477.5L788.0 478.0L790.5 474.2L906.8 475.5"/>
<path d="M907.2 440.0L906.8 475.5L906.2 503.8L903.5 505.0L903.0 540.0L902.5 600.0"/>
<path d="M849.2 496.2L863.0 497.5L865.5 507.5L869.2 520.0L876.0 523.8L878.0 526.2L876.0 532.5L879.2 538.8L884.2 539.5L885.5 543.0L891.8 544.5L895.5 557.5L899.2 565.0L905.5 570.0"/>
<path d="M950.0 534.5L965.5 535.5L965.0 560.0L964.2 576.2L969.2 583.8L971.8 595.0L975.5 600.0"/>
<path d="M965.5 540.0L987.0 541.2"/>
<path d="M902.5 590.0L901.2 615.0"/>
<path d="M971.8 596.2L975.5 600.5L987.0 600.5"/>
</g>
<g fill="none" stroke="#303030" stroke-width="0.95" stroke-linejoin="round">
<path d="M225.0 120.0L219.2 135.0L211.2 177.5L210.5 195.0L212.5 220.0L211.8 237.5L221.2 241.2L240.0 256.2L246.2 270.0L248.8 278.8"/>
<path d="M588.2 120.0L602.0 129.5L608.2 131.8L647.0 162.5L677.0 208.8L702.0 231.2L720.8 251.2L734.5 270.0L742.8 280.0"/>
<path d="M713.2 120.0L722.0 130.0L739.5 152.5L758.2 171.2L760.8 177.5L774.5 192.5L775.8 206.2L777.0 220.0L772.0 242.5L765.8 250.0L760.8 265.0L759.5 280.0"/>
<path d="M247.5 280.0C246.7 282.1 244.2 284.2 242.5 292.5C240.8 300.8 240.2 318.3 237.5 330.0C234.8 341.7 228.3 354.6 226.2 362.5C224.2 370.4 224.9 373.8 225.0 377.5C225.1 381.2 227.0 381.2 226.8 385.0C226.5 388.8 224.8 396.0 223.8 400.0C222.7 404.0 221.0 407.3 220.5 408.8"/>
<path d="M248.8 280.0C249.4 281.0 250.8 284.3 252.5 286.2C254.2 288.2 255.8 290.5 258.8 291.8C261.7 293.0 265.5 292.6 270.0 293.8C274.5 294.9 283.3 297.9 286.0 298.8"/>
<path d="M286.0 298.2L308.5 300.5L331.0 305.0L363.5 310.5L378.5 310.5L382.2 312.5L403.5 313.8L416.0 314.2L426.0 317.0L429.8 320.0L436.0 332.5L456.0 365.0L473.5 390.0L489.8 403.0L499.8 406.2L522.2 402.0L532.2 390.0L538.5 384.5L542.0 383.0"/>
<path d="M542.0 383.0L552.0 376.2L583.2 370.0L594.5 367.0L622.0 366.2L635.8 360.5L650.8 355.0L660.8 355.0L697.0 338.8L724.5 326.2L737.0 322.5L755.8 322.0"/>
<path d="M660.8 355.0C659.3 357.9 655.3 366.7 652.0 372.5C648.7 378.3 643.2 385.4 640.8 390.0C638.2 394.6 637.7 395.8 637.0 400.0C636.3 404.2 637.0 410.0 636.5 415.0C636.0 420.0 634.8 426.5 634.0 430.0C633.2 433.5 633.4 434.6 632.0 436.2C630.6 437.9 626.8 439.4 625.8 440.0"/>
<path d="M743.2 280.0C744.3 281.2 747.7 285.1 749.5 287.5C751.3 289.9 752.7 291.8 754.0 294.2C755.3 296.8 756.8 298.6 757.5 302.5C758.2 306.4 758.4 314.2 758.2 317.5C758.1 320.8 757.2 317.5 756.5 322.5C755.8 327.5 754.5 337.9 754.0 347.5C753.5 357.1 753.2 369.6 753.2 380.0C753.3 390.4 754.7 400.0 754.5 410.0C754.3 420.0 752.4 435.0 752.0 440.0"/>
<path d="M758.2 317.5L760.8 319.5L768.0 323.5"/>
<path d="M763.8 308.0L777.0 318.8"/>
<path d="M768.0 323.5L780.5 331.2L785.5 338.8L841.8 383.8L860.5 386.2L885.5 392.5L908.0 398.8L941.8 399.2L948.0 395.5L953.0 394.5L959.2 397.5L961.8 399.5L968.0 398.8L975.5 395.0L987.0 392.0"/>
<path d="M841.8 383.8L845.5 397.5L850.5 412.5L847.5 422.5L844.2 428.8L840.5 431.2L836.0 440.0"/>
<path d="M768.0 312.0L776.8 318.8"/>
<path d="M625.8 440.0C624.7 441.2 622.4 442.9 619.5 447.5C616.6 452.1 610.4 460.0 608.2 467.5C606.1 475.0 608.4 485.0 606.5 492.5C604.6 500.0 599.8 506.9 597.0 512.5C594.2 518.1 591.5 521.2 590.0 526.2C588.5 531.2 588.7 537.5 588.2 542.5C587.8 547.5 587.6 554.0 587.5 556.2"/>
<path d="M752.0 437.5C751.8 437.9 751.9 437.7 751.0 440.0C750.1 442.3 749.2 446.2 746.5 451.2C743.8 456.2 737.2 465.0 734.5 470.0C731.8 475.0 730.6 477.5 730.0 481.2C729.4 485.0 730.2 486.9 730.8 492.5C731.3 498.1 733.0 508.3 733.2 515.0C733.5 521.7 731.5 527.5 732.5 532.5C733.5 537.5 737.3 540.4 739.5 545.0C741.7 549.6 743.5 555.0 745.8 560.0C748.0 565.0 751.3 571.0 753.2 575.0C755.2 579.0 756.7 581.0 757.5 583.8C758.3 586.5 757.5 589.2 758.2 591.2C759.0 593.3 761.0 594.8 762.0 596.2C763.0 597.7 764.1 599.4 764.5 600.0"/>
<path d="M836.0 440.0L834.0 443.8L833.5 448.8L839.2 460.0L846.8 473.8L849.2 480.0L849.2 496.2"/>
<path d="M849.2 496.2C851.1 495.6 856.5 494.4 860.5 492.5C864.5 490.6 868.8 486.9 873.0 485.0C877.2 483.1 881.8 482.1 885.5 481.2C889.2 480.4 892.4 479.7 895.5 480.0C898.6 480.3 900.5 481.1 904.2 483.0C908.0 484.9 914.0 489.7 918.0 491.2C922.0 492.8 922.6 492.3 928.0 492.5C933.4 492.7 944.7 493.3 950.5 492.5C956.3 491.7 958.8 489.0 963.0 487.5C967.2 486.0 971.5 484.6 975.5 483.8C979.5 482.9 985.1 482.7 987.0 482.5"/>
<path d="M942.2 440.0L941.0 447.5L939.5 457.5L938.5 502.5L941.8 512.5L945.5 525.0L950.0 534.5"/>
<path d="M849.2 496.2C847.8 496.9 843.2 498.8 840.5 500.0C837.8 501.2 834.9 500.0 833.0 503.8C831.1 507.5 830.3 517.3 829.2 522.5C828.2 527.7 828.0 531.7 826.8 535.0C825.5 538.3 824.9 539.8 821.8 542.5C818.6 545.2 811.3 547.9 808.0 551.2C804.7 554.6 804.2 557.9 801.8 562.5C799.2 567.1 796.1 573.8 793.0 578.8C789.9 583.8 785.5 589.0 783.0 592.5C780.5 596.0 778.8 598.8 778.0 600.0"/>
<path d="M759.0 593.1L766.2 600.0L766.9 603.8L767.9 607.5L763.1 611.9"/>
<path d="M759.0 593.1L760.0 596.2L764.4 600.6L763.1 602.2L760.0 602.9L755.6 611.5"/>
<path d="M763.5 602.0L759.8 611.9"/>
<path d="M767.9 607.5L772.5 603.8L778.8 599.8"/>
</g>
<g fill="none" stroke="#000" stroke-width="1.3" stroke-linejoin="round">
<path d="M38.0 332.5L286.0 437.5"/>
<path d="M286.0 437.5L292.2 440.0L542.0 541.8"/>
<path d="M542.0 541.8L689.5 600.0"/>
<path d="M38.0 605.0L52.5 613.0L82.5 622.0L100.0 630.0L115.0 638.0L129.5 648.0L131.8 663.0"/>
<path d="M663.2 590.0L719.0 611.8L768.0 612.9"/>
<path d="M768.0 612.9L808.0 613.8L890.0 615.2L988.0 616.4"/>
</g>
<g font-family="'Liberation Sans',sans-serif" font-size="11.0" fill="#6e6e6e" text-anchor="middle">
<text transform="translate(93.0 222.0) rotate(78)" y="3.9">1000</text>
<text transform="translate(671.5 140.5) rotate(90)" y="3.9">2000</text>
<text transform="translate(736.2 141.0) rotate(-90)" y="3.9">3000</text>
<text transform="translate(888.8 206.8) rotate(68)" y="3.9">3000</text>
<text transform="translate(800.2 213.1) rotate(-77)" y="3.9">4000</text>
<text transform="translate(772.0 428.0) rotate(-40)" y="3.9">3000</text>
<text transform="translate(969.5 327.5) rotate(-85)" y="3.9">4000</text>
<text transform="translate(184.5 505.5) rotate(55)" y="3.9">1000</text>
<text transform="translate(299.8 532.5) rotate(-2)" y="3.9">2000</text>
<text transform="translate(536.0 611.2) rotate(-45)" y="3.9">3000</text>
<text transform="translate(571.5 638.2) rotate(80)" y="3.9">3000</text>
<text transform="translate(687.8 601.2) rotate(75)" y="3.9">4000</text>
</g>
<rect x="38" y="120" width="0.7" height="543" fill="url(#lg)"/>
</g>
</svg>
<div class="t" id="cap">U of A Dept of Hydrology and Atmospheric Sciences WRF-RRGFS 12Z</div>
<div id="bar"><i style="background:#ffffff"></i><i style="background:#00e8e8"></i><i style="background:#689ef7"></i><i style="background:#3333ff"></i><i style="background:#00ff00"></i><i style="background:#00c800"></i><i style="background:#008000"></i><i style="background:#ffff00"></i><i style="background:#e6bc00"></i><i style="background:#ff8c00"></i><i style="background:#ff3300"></i><i style="background:#bf1900"></i><i style="background:#7d0000"></i><i style="background:#ff00ff"></i><i style="background:#9955cc"></i><i style="background:#d2d2d2"></i></div>
<div id="labs"><span style="left:144.95px">0.01</span><span style="left:197.41px">0.10</span><span style="left:249.86px">0.25</span><span style="left:302.31px">0.40</span><span style="left:354.77px">0.7</span><span style="left:407.22px">1.0</span><span style="left:459.67px">1.25</span><span style="left:512.12px">1.75</span><span style="left:564.58px">2.5</span><span style="left:617.03px">3.0</span><span style="left:669.48px">4.0</span><span style="left:721.94px">5.0</span><span style="left:774.39px">6.0</span><span style="left:826.84px">8.0</span><span style="left:879.30px">10.0</span></div>
</body>
</html>
